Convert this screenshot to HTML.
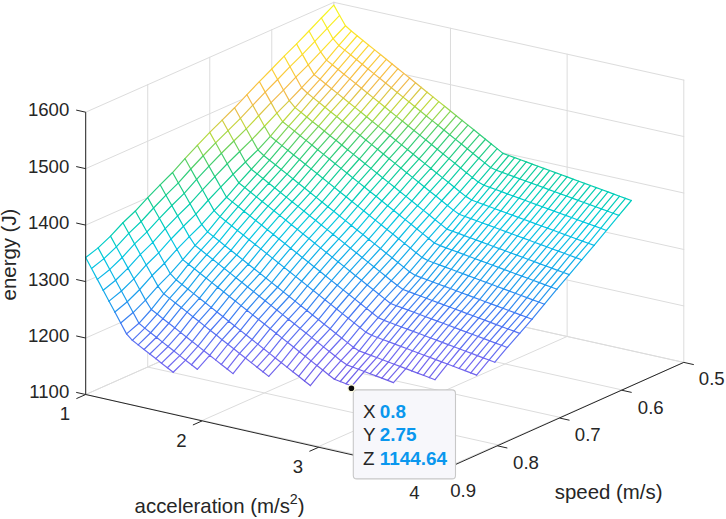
<!DOCTYPE html>
<html><head><meta charset="utf-8"><style>
html,body{margin:0;padding:0;background:#fff;}
body{width:726px;height:519px;overflow:hidden;}
svg{display:block;font-family:"Liberation Sans",sans-serif;}
</style></head><body>
<svg width="726" height="519" viewBox="0 0 726 519">
<rect width="726" height="519" fill="#fff"/>
<g stroke-linecap="round">
<line x1="333.80" y1="284.60" x2="333.80" y2="2.30" stroke="#dcdcdc" stroke-width="1.00"/>
<line x1="271.78" y1="312.07" x2="271.78" y2="29.77" stroke="#dcdcdc" stroke-width="1.00"/>
<line x1="209.75" y1="339.55" x2="209.75" y2="57.25" stroke="#dcdcdc" stroke-width="1.00"/>
<line x1="147.72" y1="367.02" x2="147.72" y2="84.72" stroke="#dcdcdc" stroke-width="1.00"/>
<line x1="85.70" y1="394.50" x2="85.70" y2="112.20" stroke="#dcdcdc" stroke-width="1.00"/>
<line x1="85.70" y1="394.50" x2="333.80" y2="284.60" stroke="#dcdcdc" stroke-width="1.00"/>
<line x1="85.70" y1="338.04" x2="333.80" y2="228.14" stroke="#dcdcdc" stroke-width="1.00"/>
<line x1="85.70" y1="281.58" x2="333.80" y2="171.68" stroke="#dcdcdc" stroke-width="1.00"/>
<line x1="85.70" y1="225.12" x2="333.80" y2="115.22" stroke="#dcdcdc" stroke-width="1.00"/>
<line x1="85.70" y1="168.66" x2="333.80" y2="58.76" stroke="#dcdcdc" stroke-width="1.00"/>
<line x1="85.70" y1="112.20" x2="333.80" y2="2.30" stroke="#dcdcdc" stroke-width="1.00"/>
<line x1="333.80" y1="284.60" x2="333.80" y2="2.30" stroke="#dcdcdc" stroke-width="1.00"/>
<line x1="450.47" y1="310.53" x2="450.47" y2="28.23" stroke="#dcdcdc" stroke-width="1.00"/>
<line x1="567.14" y1="336.46" x2="567.14" y2="54.16" stroke="#dcdcdc" stroke-width="1.00"/>
<line x1="683.81" y1="362.39" x2="683.81" y2="80.09" stroke="#dcdcdc" stroke-width="1.00"/>
<line x1="333.80" y1="284.60" x2="683.81" y2="362.39" stroke="#dcdcdc" stroke-width="1.00"/>
<line x1="333.80" y1="228.14" x2="683.81" y2="305.93" stroke="#dcdcdc" stroke-width="1.00"/>
<line x1="333.80" y1="171.68" x2="683.81" y2="249.47" stroke="#dcdcdc" stroke-width="1.00"/>
<line x1="333.80" y1="115.22" x2="683.81" y2="193.01" stroke="#dcdcdc" stroke-width="1.00"/>
<line x1="333.80" y1="58.76" x2="683.81" y2="136.55" stroke="#dcdcdc" stroke-width="1.00"/>
<line x1="333.80" y1="2.30" x2="683.81" y2="80.09" stroke="#dcdcdc" stroke-width="1.00"/>
<line x1="85.70" y1="394.50" x2="333.80" y2="284.60" stroke="#dcdcdc" stroke-width="1.00"/>
<line x1="202.37" y1="420.43" x2="450.47" y2="310.53" stroke="#dcdcdc" stroke-width="1.00"/>
<line x1="319.04" y1="446.36" x2="567.14" y2="336.46" stroke="#dcdcdc" stroke-width="1.00"/>
<line x1="435.71" y1="472.29" x2="683.81" y2="362.39" stroke="#dcdcdc" stroke-width="1.00"/>
<line x1="333.80" y1="284.60" x2="683.81" y2="362.39" stroke="#dcdcdc" stroke-width="1.00"/>
<line x1="271.78" y1="312.07" x2="621.78" y2="389.86" stroke="#dcdcdc" stroke-width="1.00"/>
<line x1="209.75" y1="339.55" x2="559.76" y2="417.34" stroke="#dcdcdc" stroke-width="1.00"/>
<line x1="147.72" y1="367.02" x2="497.73" y2="444.81" stroke="#dcdcdc" stroke-width="1.00"/>
<line x1="85.70" y1="394.50" x2="435.71" y2="472.29" stroke="#dcdcdc" stroke-width="1.00"/>
</g>
<g fill="none" stroke-width="1.2" stroke-linejoin="round" stroke-linecap="round">
<path d="M333.80 5.12L339.63 15.45L327.23 28.33L321.39 17.96ZM321.39 17.96L327.23 28.33L314.82 41.44L308.99 31.02ZM308.99 31.02L314.82 41.44L302.42 54.38L296.58 43.91ZM296.58 43.91L302.42 54.38L290.01 66.69L284.18 56.18ZM284.18 56.18L290.01 66.69L277.61 79.51L271.78 68.96ZM271.78 68.96L277.61 79.51L265.20 92.11L259.37 81.57ZM259.37 81.57L265.20 92.11L252.80 105.21L246.97 94.68ZM246.97 94.68L252.80 105.21L240.39 118.31L234.56 107.80ZM234.56 107.80L240.39 118.31L227.99 130.56L222.15 120.07ZM222.15 120.07L227.99 130.56L215.58 142.81L209.75 132.34ZM209.75 132.34L215.58 142.81L203.18 155.73L197.35 145.29ZM197.35 145.29L203.18 155.73L190.77 168.99L184.94 158.58ZM184.94 158.58L190.77 168.99L178.37 182.93L172.54 172.54ZM172.54 172.54L178.37 182.93L165.96 195.17L160.13 184.81ZM160.13 184.81L165.96 195.17L153.56 207.98L147.72 197.64ZM147.72 197.64L153.56 207.98L141.15 221.49L135.32 211.04ZM135.32 211.04L141.15 221.49L128.75 233.31L122.92 222.75ZM122.92 222.75L128.75 233.31L116.34 246.82L110.51 236.15ZM110.51 236.15L116.34 246.82L103.94 258.64L98.11 247.85ZM98.11 247.85L103.94 258.64L91.53 268.48L85.70 257.58ZM339.63 15.45L345.47 25.78L333.06 38.71L327.23 28.33ZM327.23 28.33L333.06 38.71L320.66 51.86L314.82 41.44ZM314.82 41.44L320.66 51.86L308.25 64.84L302.42 54.38ZM302.42 54.38L308.25 64.84L295.85 77.20L290.01 66.69ZM290.01 66.69L295.85 77.20L283.44 90.07L277.61 79.51ZM277.61 79.51L283.44 90.07L271.04 102.65L265.20 92.11ZM265.20 92.11L271.04 102.65L258.63 115.73L252.80 105.21ZM252.80 105.21L258.63 115.73L246.23 128.81L240.39 118.31ZM240.39 118.31L246.23 128.81L233.82 141.05L227.99 130.56ZM227.99 130.56L233.82 141.05L221.42 153.28L215.58 142.81ZM215.58 142.81L221.42 153.28L209.01 166.18L203.18 155.73ZM203.18 155.73L209.01 166.18L196.61 179.41L190.77 168.99ZM190.77 168.99L196.61 179.41L184.20 193.31L178.37 182.93ZM178.37 182.93L184.20 193.31L171.80 205.53L165.96 195.17ZM165.96 195.17L171.80 205.53L159.39 218.31L153.56 207.98ZM153.56 207.98L159.39 218.31L146.99 231.93L141.15 221.49ZM141.15 221.49L146.99 231.93L134.58 243.86L128.75 233.31ZM128.75 233.31L134.58 243.86L122.18 257.49L116.34 246.82ZM116.34 246.82L122.18 257.49L109.77 269.42L103.94 258.64ZM103.94 258.64L109.77 269.42L97.37 279.37L91.53 268.48ZM345.47 25.78L351.30 31.05L338.90 45.45L333.06 38.71ZM333.06 38.71L338.90 45.45L326.49 60.10L320.66 51.86ZM320.66 51.86L326.49 60.10L314.09 74.61L308.25 64.84ZM308.25 64.84L314.09 74.61L301.68 87.71L295.85 77.20ZM295.85 77.20L301.68 87.71L289.28 100.63L283.44 90.07ZM283.44 90.07L289.28 100.63L276.87 113.18L271.04 102.65ZM271.04 102.65L276.87 113.18L264.47 126.25L258.63 115.73ZM258.63 115.73L264.47 126.25L252.06 139.32L246.23 128.81ZM246.23 128.81L252.06 139.32L239.66 151.54L233.82 141.05ZM233.82 141.05L239.66 151.54L227.25 163.76L221.42 153.28ZM221.42 153.28L227.25 163.76L214.85 176.62L209.01 166.18ZM209.01 166.18L214.85 176.62L202.44 189.82L196.61 179.41ZM196.61 179.41L202.44 189.82L190.04 203.70L184.20 193.31ZM184.20 193.31L190.04 203.70L177.63 215.89L171.80 205.53ZM171.80 205.53L177.63 215.89L165.23 228.64L159.39 218.31ZM159.39 218.31L165.23 228.64L152.82 242.37L146.99 231.93ZM146.99 231.93L152.82 242.37L140.42 254.42L134.58 243.86ZM134.58 243.86L140.42 254.42L128.01 268.16L122.18 257.49ZM122.18 257.49L128.01 268.16L115.61 280.20L109.77 269.42ZM109.77 269.42L115.61 280.20L103.20 290.27L97.37 279.37ZM351.30 31.05L357.13 35.75L344.73 50.15L338.90 45.45ZM338.90 45.45L344.73 50.15L332.32 64.79L326.49 60.10ZM326.49 60.10L332.32 64.79L319.92 79.30L314.09 74.61ZM314.09 74.61L319.92 79.30L307.51 93.21L301.68 87.71ZM301.68 87.71L307.51 93.21L295.11 107.65L289.28 100.63ZM289.28 100.63L295.11 107.65L282.70 121.73L276.87 113.18ZM276.87 113.18L282.70 121.73L270.30 136.30L264.47 126.25ZM264.47 126.25L270.30 136.30L257.89 149.82L252.06 139.32ZM252.06 139.32L257.89 149.82L245.49 162.02L239.66 151.54ZM239.66 151.54L245.49 162.02L233.08 174.23L227.25 163.76ZM227.25 163.76L233.08 174.23L220.68 187.06L214.85 176.62ZM214.85 176.62L220.68 187.06L208.27 200.24L202.44 189.82ZM202.44 189.82L208.27 200.24L195.87 214.09L190.04 203.70ZM190.04 203.70L195.87 214.09L183.46 226.24L177.63 215.89ZM177.63 215.89L183.46 226.24L171.06 238.97L165.23 228.64ZM165.23 228.64L171.06 238.97L158.65 252.82L152.82 242.37ZM152.82 242.37L158.65 252.82L146.25 264.97L140.42 254.42ZM140.42 254.42L146.25 264.97L133.84 278.82L128.01 268.16ZM128.01 268.16L133.84 278.82L121.44 290.98L115.61 280.20ZM115.61 280.20L121.44 290.98L109.03 301.16L103.20 290.27ZM357.13 35.75L362.97 40.46L350.56 54.84L344.73 50.15ZM344.73 50.15L350.56 54.84L338.16 69.48L332.32 64.79ZM332.32 64.79L338.16 69.48L325.75 83.98L319.92 79.30ZM319.92 79.30L325.75 83.98L313.35 97.88L307.51 93.21ZM307.51 93.21L313.35 97.88L300.94 112.32L295.11 107.65ZM295.11 107.65L300.94 112.32L288.54 126.39L282.70 121.73ZM282.70 121.73L288.54 126.39L276.13 140.96L270.30 136.30ZM270.30 136.30L276.13 140.96L263.73 155.53L257.89 149.82ZM257.89 149.82L263.73 155.53L251.32 169.24L245.49 162.02ZM245.49 162.02L251.32 169.24L238.92 182.95L233.08 174.23ZM233.08 174.23L238.92 182.95L226.51 197.27L220.68 187.06ZM220.68 187.06L226.51 197.27L214.11 210.65L208.27 200.24ZM208.27 200.24L214.11 210.65L201.70 224.47L195.87 214.09ZM195.87 214.09L201.70 224.47L189.30 236.60L183.46 226.24ZM183.46 226.24L189.30 236.60L176.89 249.30L171.06 238.97ZM171.06 238.97L176.89 249.30L164.49 263.26L158.65 252.82ZM158.65 252.82L164.49 263.26L152.08 275.53L146.25 264.97ZM146.25 264.97L152.08 275.53L139.68 289.49L133.84 278.82ZM133.84 278.82L139.68 289.49L127.27 301.76L121.44 290.98ZM121.44 290.98L127.27 301.76L114.87 312.06L109.03 301.16ZM362.97 40.46L368.80 45.16L356.40 59.54L350.56 54.84ZM350.56 54.84L356.40 59.54L343.99 74.17L338.16 69.48ZM338.16 69.48L343.99 74.17L331.59 88.66L325.75 83.98ZM325.75 83.98L331.59 88.66L319.18 102.56L313.35 97.88ZM313.35 97.88L319.18 102.56L306.78 116.99L300.94 112.32ZM300.94 112.32L306.78 116.99L294.37 131.05L288.54 126.39ZM288.54 126.39L294.37 131.05L281.97 145.62L276.13 140.96ZM276.13 140.96L281.97 145.62L269.56 160.18L263.73 155.53ZM263.73 155.53L269.56 160.18L257.16 173.88L251.32 169.24ZM251.32 169.24L257.16 173.88L244.75 187.58L238.92 182.95ZM238.92 182.95L244.75 187.58L232.35 201.90L226.51 197.27ZM226.51 197.27L232.35 201.90L219.94 216.55L214.11 210.65ZM214.11 210.65L219.94 216.55L207.54 231.86L201.70 224.47ZM201.70 224.47L207.54 231.86L195.13 245.47L189.30 236.60ZM189.30 236.60L195.13 245.47L182.73 259.63L176.89 249.30ZM176.89 249.30L182.73 259.63L170.32 273.70L164.49 263.26ZM164.49 263.26L170.32 273.70L157.92 286.09L152.08 275.53ZM152.08 275.53L157.92 286.09L145.51 300.16L139.68 289.49ZM139.68 289.49L145.51 300.16L133.11 312.55L127.27 301.76ZM127.27 301.76L133.11 312.55L120.70 322.95L114.87 312.06ZM368.80 45.16L374.63 49.87L362.23 64.24L356.40 59.54ZM356.40 59.54L362.23 64.24L349.82 78.86L343.99 74.17ZM343.99 74.17L349.82 78.86L337.42 93.35L331.59 88.66ZM331.59 88.66L337.42 93.35L325.01 107.24L319.18 102.56ZM319.18 102.56L325.01 107.24L312.61 121.66L306.78 116.99ZM306.78 116.99L312.61 121.66L300.20 135.72L294.37 131.05ZM294.37 131.05L300.20 135.72L287.80 150.27L281.97 145.62ZM281.97 145.62L287.80 150.27L275.39 164.82L269.56 160.18ZM269.56 160.18L275.39 164.82L262.99 178.52L257.16 173.88ZM257.16 173.88L262.99 178.52L250.58 192.22L244.75 187.58ZM244.75 187.58L250.58 192.22L238.18 206.53L232.35 201.90ZM232.35 201.90L238.18 206.53L225.77 221.17L219.94 216.55ZM219.94 216.55L225.77 221.17L213.37 236.47L207.54 231.86ZM207.54 231.86L213.37 236.47L200.96 250.07L195.13 245.47ZM195.13 245.47L200.96 250.07L188.56 264.23L182.73 259.63ZM182.73 259.63L188.56 264.23L176.15 279.82L170.32 273.70ZM170.32 273.70L176.15 279.82L163.75 293.78L157.92 286.09ZM157.92 286.09L163.75 293.78L151.34 309.49L145.51 300.16ZM145.51 300.16L151.34 309.49L138.94 323.33L133.11 312.55ZM133.11 312.55L138.94 323.33L126.53 333.85L120.70 322.95ZM374.63 49.87L380.47 54.57L368.06 68.93L362.23 64.24ZM362.23 64.24L368.06 68.93L355.66 83.55L349.82 78.86ZM349.82 78.86L355.66 83.55L343.25 98.03L337.42 93.35ZM337.42 93.35L343.25 98.03L330.85 111.91L325.01 107.24ZM325.01 107.24L330.85 111.91L318.44 126.33L312.61 121.66ZM312.61 121.66L318.44 126.33L306.04 140.38L300.20 135.72ZM300.20 135.72L306.04 140.38L293.63 154.93L287.80 150.27ZM287.80 150.27L293.63 154.93L281.23 169.47L275.39 164.82ZM275.39 164.82L281.23 169.47L268.82 183.17L262.99 178.52ZM262.99 178.52L268.82 183.17L256.42 196.86L250.58 192.22ZM250.58 192.22L256.42 196.86L244.01 211.16L238.18 206.53ZM238.18 206.53L244.01 211.16L231.61 225.79L225.77 221.17ZM225.77 221.17L231.61 225.79L219.20 241.09L213.37 236.47ZM213.37 236.47L219.20 241.09L206.80 254.68L200.96 250.07ZM200.96 250.07L206.80 254.68L194.39 268.83L188.56 264.23ZM188.56 264.23L194.39 268.83L181.99 284.41L176.15 279.82ZM176.15 279.82L181.99 284.41L169.58 298.37L163.75 293.78ZM163.75 293.78L169.58 298.37L157.18 314.07L151.34 309.49ZM151.34 309.49L157.18 314.07L144.77 328.15L138.94 323.33ZM138.94 323.33L144.77 328.15L132.37 340.31L126.53 333.85ZM380.47 54.57L386.30 59.27L373.90 73.63L368.06 68.93ZM368.06 68.93L373.90 73.63L361.49 88.24L355.66 83.55ZM355.66 83.55L361.49 88.24L349.09 102.71L343.25 98.03ZM343.25 98.03L349.09 102.71L336.68 116.59L330.85 111.91ZM330.85 111.91L336.68 116.59L324.28 131.00L318.44 126.33ZM318.44 126.33L324.28 131.00L311.87 145.04L306.04 140.38ZM306.04 140.38L311.87 145.04L299.47 159.59L293.63 154.93ZM293.63 154.93L299.47 159.59L287.06 174.12L281.23 169.47ZM281.23 169.47L287.06 174.12L274.66 187.81L268.82 183.17ZM268.82 183.17L274.66 187.81L262.25 201.49L256.42 196.86ZM256.42 196.86L262.25 201.49L249.85 215.79L244.01 211.16ZM244.01 211.16L249.85 215.79L237.44 230.41L231.61 225.79ZM231.61 225.79L237.44 230.41L225.04 245.71L219.20 241.09ZM219.20 241.09L225.04 245.71L212.63 259.29L206.80 254.68ZM206.80 254.68L212.63 259.29L200.23 273.43L194.39 268.83ZM194.39 268.83L200.23 273.43L187.82 289.01L181.99 284.41ZM181.99 284.41L187.82 289.01L175.42 302.95L169.58 298.37ZM169.58 298.37L175.42 302.95L163.01 318.66L157.18 314.07ZM157.18 314.07L163.01 318.66L150.61 332.73L144.77 328.15ZM144.77 328.15L150.61 332.73L138.20 344.88L132.37 340.31ZM386.30 59.27L392.13 63.98L379.73 78.33L373.90 73.63ZM373.90 73.63L379.73 78.33L367.32 92.93L361.49 88.24ZM361.49 88.24L367.32 92.93L354.92 107.40L349.09 102.71ZM349.09 102.71L354.92 107.40L342.52 121.27L336.68 116.59ZM336.68 116.59L342.52 121.27L330.11 135.67L324.28 131.00ZM324.28 131.00L330.11 135.67L317.71 149.70L311.87 145.04ZM311.87 145.04L317.71 149.70L305.30 164.24L299.47 159.59ZM299.47 159.59L305.30 164.24L292.89 178.77L287.06 174.12ZM287.06 174.12L292.89 178.77L280.49 192.45L274.66 187.81ZM274.66 187.81L280.49 192.45L268.09 206.13L262.25 201.49ZM262.25 201.49L268.09 206.13L255.68 220.42L249.85 215.79ZM249.85 215.79L255.68 220.42L243.28 235.04L237.44 230.41ZM237.44 230.41L243.28 235.04L230.87 250.32L225.04 245.71ZM225.04 245.71L230.87 250.32L218.46 263.90L212.63 259.29ZM212.63 259.29L218.46 263.90L206.06 278.03L200.23 273.43ZM200.23 273.43L206.06 278.03L193.66 293.60L187.82 289.01ZM187.82 289.01L193.66 293.60L181.25 307.54L175.42 302.95ZM175.42 302.95L181.25 307.54L168.85 323.24L163.01 318.66ZM163.01 318.66L168.85 323.24L156.44 337.30L150.61 332.73ZM150.61 332.73L156.44 337.30L144.03 349.45L138.20 344.88ZM392.13 63.98L397.97 68.68L385.56 83.03L379.73 78.33ZM379.73 78.33L385.56 83.03L373.16 97.62L367.32 92.93ZM367.32 92.93L373.16 97.62L360.75 112.08L354.92 107.40ZM354.92 107.40L360.75 112.08L348.35 125.94L342.52 121.27ZM342.52 121.27L348.35 125.94L335.94 140.34L330.11 135.67ZM330.11 135.67L335.94 140.34L323.54 154.37L317.71 149.70ZM317.71 149.70L323.54 154.37L311.13 168.90L305.30 164.24ZM305.30 164.24L311.13 168.90L298.73 183.42L292.89 178.77ZM292.89 178.77L298.73 183.42L286.32 197.10L280.49 192.45ZM280.49 192.45L286.32 197.10L273.92 210.76L268.09 206.13ZM268.09 206.13L273.92 210.76L261.51 225.05L255.68 220.42ZM255.68 220.42L261.51 225.05L249.11 239.66L243.28 235.04ZM243.28 235.04L249.11 239.66L236.70 254.94L230.87 250.32ZM230.87 250.32L236.70 254.94L224.30 268.51L218.46 263.90ZM218.46 263.90L224.30 268.51L211.89 282.64L206.06 278.03ZM206.06 278.03L211.89 282.64L199.49 298.20L193.66 293.60ZM193.66 293.60L199.49 298.20L187.08 312.13L181.25 307.54ZM181.25 307.54L187.08 312.13L174.68 327.82L168.85 323.24ZM168.85 323.24L174.68 327.82L162.27 341.88L156.44 337.30ZM156.44 337.30L162.27 341.88L149.87 354.02L144.03 349.45ZM397.97 68.68L403.80 73.38L391.40 87.72L385.56 83.03ZM385.56 83.03L391.40 87.72L378.99 102.32L373.16 97.62ZM373.16 97.62L378.99 102.32L366.59 116.76L360.75 112.08ZM360.75 112.08L366.59 116.76L354.18 130.62L348.35 125.94ZM348.35 125.94L354.18 130.62L341.78 145.01L335.94 140.34ZM335.94 140.34L341.78 145.01L329.37 159.03L323.54 154.37ZM323.54 154.37L329.37 159.03L316.97 173.55L311.13 168.90ZM311.13 168.90L316.97 173.55L304.56 188.07L298.73 183.42ZM298.73 183.42L304.56 188.07L292.16 201.74L286.32 197.10ZM286.32 197.10L292.16 201.74L279.75 215.40L273.92 210.76ZM273.92 210.76L279.75 215.40L267.35 229.68L261.51 225.05ZM261.51 225.05L267.35 229.68L254.94 244.28L249.11 239.66ZM249.11 239.66L254.94 244.28L242.54 259.55L236.70 254.94ZM236.70 254.94L242.54 259.55L230.13 273.12L224.30 268.51ZM224.30 268.51L230.13 273.12L217.73 287.24L211.89 282.64ZM211.89 282.64L217.73 287.24L205.32 302.80L199.49 298.20ZM199.49 298.20L205.32 302.80L192.92 316.72L187.08 312.13ZM187.08 312.13L192.92 316.72L180.51 332.40L174.68 327.82ZM174.68 327.82L180.51 332.40L168.11 346.45L162.27 341.88ZM162.27 341.88L168.11 346.45L155.70 358.59L149.87 354.02ZM403.80 73.38L409.64 78.09L397.23 92.42L391.40 87.72ZM391.40 87.72L397.23 92.42L384.83 107.01L378.99 102.32ZM378.99 102.32L384.83 107.01L372.42 121.45L366.59 116.76ZM366.59 116.76L372.42 121.45L360.02 135.30L354.18 130.62ZM354.18 130.62L360.02 135.30L347.61 149.68L341.78 145.01ZM341.78 145.01L347.61 149.68L335.21 163.69L329.37 159.03ZM329.37 159.03L335.21 163.69L322.80 178.21L316.97 173.55ZM316.97 173.55L322.80 178.21L310.40 192.72L304.56 188.07ZM304.56 188.07L310.40 192.72L297.99 206.38L292.16 201.74ZM292.16 201.74L297.99 206.38L285.59 220.04L279.75 215.40ZM279.75 215.40L285.59 220.04L273.18 234.31L267.35 229.68ZM267.35 229.68L273.18 234.31L260.78 248.90L254.94 244.28ZM254.94 244.28L260.78 248.90L248.37 264.17L242.54 259.55ZM242.54 259.55L248.37 264.17L235.97 277.73L230.13 273.12ZM230.13 273.12L235.97 277.73L223.56 291.84L217.73 287.24ZM217.73 287.24L223.56 291.84L211.16 307.39L205.32 302.80ZM205.32 302.80L211.16 307.39L198.75 321.31L192.92 316.72ZM192.92 316.72L198.75 321.31L186.35 336.98L180.51 332.40ZM180.51 332.40L186.35 336.98L173.94 351.03L168.11 346.45ZM168.11 346.45L173.94 351.03L161.54 363.16L155.70 358.59ZM409.64 78.09L415.47 82.79L403.06 97.12L397.23 92.42ZM397.23 92.42L403.06 97.12L390.66 111.70L384.83 107.01ZM384.83 107.01L390.66 111.70L378.25 126.13L372.42 121.45ZM372.42 121.45L378.25 126.13L365.85 139.97L360.02 135.30ZM360.02 135.30L365.85 139.97L353.44 154.35L347.61 149.68ZM347.61 149.68L353.44 154.35L341.04 168.36L335.21 163.69ZM335.21 163.69L341.04 168.36L328.63 182.87L322.80 178.21ZM322.80 178.21L328.63 182.87L316.23 197.37L310.40 192.72ZM310.40 192.72L316.23 197.37L303.82 211.03L297.99 206.38ZM297.99 206.38L303.82 211.03L291.42 224.67L285.59 220.04ZM285.59 220.04L291.42 224.67L279.01 238.94L273.18 234.31ZM273.18 234.31L279.01 238.94L266.61 253.53L260.78 248.90ZM260.78 248.90L266.61 253.53L254.20 268.78L248.37 264.17ZM248.37 264.17L254.20 268.78L241.80 282.34L235.97 277.73ZM235.97 277.73L241.80 282.34L229.39 296.44L223.56 291.84ZM223.56 291.84L229.39 296.44L216.99 311.99L211.16 307.39ZM211.16 307.39L216.99 311.99L204.58 325.90L198.75 321.31ZM198.75 321.31L204.58 325.90L192.18 341.57L186.35 336.98ZM186.35 336.98L192.18 341.57L179.77 355.60L173.94 351.03ZM173.94 351.03L179.77 355.60L167.37 367.72L161.54 363.16ZM415.47 82.79L421.30 87.50L408.90 101.81L403.06 97.12ZM403.06 97.12L408.90 101.81L396.49 116.39L390.66 111.70ZM390.66 111.70L396.49 116.39L384.09 130.82L378.25 126.13ZM378.25 126.13L384.09 130.82L371.68 144.65L365.85 139.97ZM365.85 139.97L371.68 144.65L359.28 159.02L353.44 154.35ZM353.44 154.35L359.28 159.02L346.87 173.02L341.04 168.36ZM341.04 168.36L346.87 173.02L334.47 187.52L328.63 182.87ZM328.63 182.87L334.47 187.52L322.06 202.02L316.23 197.37ZM316.23 197.37L322.06 202.02L309.66 215.67L303.82 211.03ZM303.82 211.03L309.66 215.67L297.25 229.31L291.42 224.67ZM291.42 224.67L297.25 229.31L284.85 243.57L279.01 238.94ZM279.01 238.94L284.85 243.57L272.44 258.15L266.61 253.53ZM266.61 253.53L272.44 258.15L260.04 273.40L254.20 268.78ZM254.20 268.78L260.04 273.40L247.63 286.95L241.80 282.34ZM241.80 282.34L247.63 286.95L235.23 301.05L229.39 296.44ZM229.39 296.44L235.23 301.05L222.82 316.58L216.99 311.99ZM216.99 311.99L222.82 316.58L210.42 330.49L204.58 325.90ZM204.58 325.90L210.42 330.49L198.01 346.15L192.18 341.57ZM192.18 341.57L198.01 346.15L185.61 360.18L179.77 355.60ZM179.77 355.60L185.61 360.18L173.20 372.29L167.37 367.72ZM421.30 87.50L427.14 92.20L414.73 106.51L408.90 101.81ZM408.90 101.81L414.73 106.51L402.33 121.08L396.49 116.39ZM396.49 116.39L402.33 121.08L389.92 135.50L384.09 130.82ZM384.09 130.82L389.92 135.50L377.52 149.33L371.68 144.65ZM371.68 144.65L377.52 149.33L365.11 163.69L359.28 159.02ZM359.28 159.02L365.11 163.69L352.71 177.68L346.87 173.02ZM346.87 173.02L352.71 177.68L340.30 192.18L334.47 187.52ZM334.47 187.52L340.30 192.18L327.90 206.67L322.06 202.02ZM322.06 202.02L327.90 206.67L315.49 220.31L309.66 215.67ZM309.66 215.67L315.49 220.31L303.09 233.94L297.25 229.31ZM297.25 229.31L303.09 233.94L290.68 248.19L284.85 243.57ZM284.85 243.57L290.68 248.19L278.28 262.77L272.44 258.15ZM272.44 258.15L278.28 262.77L265.87 278.02L260.04 273.40ZM260.04 273.40L265.87 278.02L253.47 291.56L247.63 286.95ZM247.63 286.95L253.47 291.56L241.06 305.65L235.23 301.05ZM235.23 301.05L241.06 305.65L228.66 321.18L222.82 316.58ZM222.82 316.58L228.66 321.18L216.25 335.08L210.42 330.49ZM210.42 330.49L216.25 335.08L203.85 350.73L198.01 346.15ZM198.01 346.15L203.85 350.73L191.44 364.75L185.61 360.18ZM427.14 92.20L432.97 96.90L420.56 111.21L414.73 106.51ZM414.73 106.51L420.56 111.21L408.16 125.77L402.33 121.08ZM402.33 121.08L408.16 125.77L395.75 140.18L389.92 135.50ZM389.92 135.50L395.75 140.18L383.35 154.00L377.52 149.33ZM377.52 149.33L383.35 154.00L370.94 168.36L365.11 163.69ZM365.11 163.69L370.94 168.36L358.54 182.35L352.71 177.68ZM352.71 177.68L358.54 182.35L346.13 196.84L340.30 192.18ZM340.30 192.18L346.13 196.84L333.73 211.32L327.90 206.67ZM327.90 206.67L333.73 211.32L321.32 224.95L315.49 220.31ZM315.49 220.31L321.32 224.95L308.92 238.58L303.09 233.94ZM303.09 233.94L308.92 238.58L296.51 252.82L290.68 248.19ZM290.68 248.19L296.51 252.82L284.11 267.39L278.28 262.77ZM278.28 262.77L284.11 267.39L271.70 282.63L265.87 278.02ZM265.87 278.02L271.70 282.63L259.30 296.16L253.47 291.56ZM253.47 291.56L259.30 296.16L246.89 310.25L241.06 305.65ZM241.06 305.65L246.89 310.25L234.49 325.77L228.66 321.18ZM228.66 321.18L234.49 325.77L222.08 339.66L216.25 335.08ZM216.25 335.08L222.08 339.66L209.68 355.31L203.85 350.73ZM203.85 350.73L209.68 355.31L197.27 369.33L191.44 364.75ZM432.97 96.90L438.80 101.61L426.40 115.91L420.56 111.21ZM420.56 111.21L426.40 115.91L413.99 130.46L408.16 125.77ZM408.16 125.77L413.99 130.46L401.59 144.87L395.75 140.18ZM395.75 140.18L401.59 144.87L389.18 158.68L383.35 154.00ZM383.35 154.00L389.18 158.68L376.78 173.03L370.94 168.36ZM370.94 168.36L376.78 173.03L364.37 187.01L358.54 182.35ZM358.54 182.35L364.37 187.01L351.97 201.49L346.13 196.84ZM346.13 196.84L351.97 201.49L339.56 215.97L333.73 211.32ZM333.73 211.32L339.56 215.97L327.16 229.60L321.32 224.95ZM321.32 224.95L327.16 229.60L314.75 243.22L308.92 238.58ZM308.92 238.58L314.75 243.22L302.35 257.45L296.51 252.82ZM296.51 252.82L302.35 257.45L289.94 272.02L284.11 267.39ZM284.11 267.39L289.94 272.02L277.54 287.25L271.70 282.63ZM271.70 282.63L277.54 287.25L265.13 300.77L259.30 296.16ZM259.30 296.16L265.13 300.77L252.73 314.85L246.89 310.25ZM246.89 310.25L252.73 314.85L240.32 330.37L234.49 325.77ZM234.49 325.77L240.32 330.37L227.92 344.25L222.08 339.66ZM222.08 339.66L227.92 344.25L215.51 359.89L209.68 355.31ZM438.80 101.61L444.64 106.31L432.23 120.60L426.40 115.91ZM426.40 115.91L432.23 120.60L419.83 135.15L413.99 130.46ZM413.99 130.46L419.83 135.15L407.42 149.55L401.59 144.87ZM401.59 144.87L407.42 149.55L395.02 163.36L389.18 158.68ZM389.18 158.68L395.02 163.36L382.61 177.70L376.78 173.03ZM376.78 173.03L382.61 177.70L370.21 191.67L364.37 187.01ZM364.37 187.01L370.21 191.67L357.80 206.15L351.97 201.49ZM351.97 201.49L357.80 206.15L345.40 220.62L339.56 215.97ZM339.56 215.97L345.40 220.62L332.99 234.24L327.16 229.60ZM327.16 229.60L332.99 234.24L320.59 247.85L314.75 243.22ZM314.75 243.22L320.59 247.85L308.18 262.08L302.35 257.45ZM302.35 257.45L308.18 262.08L295.78 276.64L289.94 272.02ZM289.94 272.02L295.78 276.64L283.37 291.86L277.54 287.25ZM277.54 287.25L283.37 291.86L270.97 305.38L265.13 300.77ZM265.13 300.77L270.97 305.38L258.56 319.45L252.73 314.85ZM252.73 314.85L258.56 319.45L246.16 334.96L240.32 330.37ZM240.32 330.37L246.16 334.96L233.75 348.84L227.92 344.25ZM227.92 344.25L233.75 348.84L221.35 364.48L215.51 359.89ZM444.64 106.31L450.47 111.02L438.06 125.30L432.23 120.60ZM432.23 120.60L438.06 125.30L425.66 139.84L419.83 135.15ZM419.83 135.15L425.66 139.84L413.25 154.23L407.42 149.55ZM407.42 149.55L413.25 154.23L400.85 168.03L395.02 163.36ZM395.02 163.36L400.85 168.03L388.45 182.37L382.61 177.70ZM382.61 177.70L388.45 182.37L376.04 196.34L370.21 191.67ZM370.21 191.67L376.04 196.34L363.63 210.81L357.80 206.15ZM357.80 206.15L363.63 210.81L351.23 225.27L345.40 220.62ZM345.40 220.62L351.23 225.27L338.82 238.88L332.99 234.24ZM332.99 234.24L338.82 238.88L326.42 252.49L320.59 247.85ZM320.59 247.85L326.42 252.49L314.02 266.71L308.18 262.08ZM308.18 262.08L314.02 266.71L301.61 281.26L295.78 276.64ZM295.78 276.64L301.61 281.26L289.21 296.48L283.37 291.86ZM283.37 291.86L289.21 296.48L276.80 309.99L270.97 305.38ZM270.97 305.38L276.80 309.99L264.39 324.06L258.56 319.45ZM258.56 319.45L264.39 324.06L251.99 339.56L246.16 334.96ZM246.16 334.96L251.99 339.56L239.59 353.43L233.75 348.84ZM233.75 348.84L239.59 353.43L227.18 369.06L221.35 364.48ZM450.47 111.02L456.30 115.72L443.90 130.00L438.06 125.30ZM438.06 125.30L443.90 130.00L431.49 144.53L425.66 139.84ZM425.66 139.84L431.49 144.53L419.09 158.92L413.25 154.23ZM413.25 154.23L419.09 158.92L406.68 172.71L400.85 168.03ZM400.85 168.03L406.68 172.71L394.28 187.04L388.45 182.37ZM388.45 182.37L394.28 187.04L381.87 201.00L376.04 196.34ZM376.04 196.34L381.87 201.00L369.47 215.46L363.63 210.81ZM363.63 210.81L369.47 215.46L357.06 229.92L351.23 225.27ZM351.23 225.27L357.06 229.92L344.66 243.53L338.82 238.88ZM338.82 238.88L344.66 243.53L332.25 257.13L326.42 252.49ZM326.42 252.49L332.25 257.13L319.85 271.34L314.02 266.71ZM314.02 266.71L319.85 271.34L307.44 285.89L301.61 281.26ZM301.61 281.26L307.44 285.89L295.04 301.10L289.21 296.48ZM289.21 296.48L295.04 301.10L282.63 314.60L276.80 309.99ZM276.80 309.99L282.63 314.60L270.23 328.66L264.39 324.06ZM264.39 324.06L270.23 328.66L257.82 344.15L251.99 339.56ZM251.99 339.56L257.82 344.15L245.42 358.02L239.59 353.43ZM239.59 353.43L245.42 358.02L233.01 373.64L227.18 369.06ZM456.30 115.72L462.14 120.42L449.73 134.69L443.90 130.00ZM443.90 130.00L449.73 134.69L437.33 149.22L431.49 144.53ZM431.49 144.53L437.33 149.22L424.92 163.60L419.09 158.92ZM419.09 158.92L424.92 163.60L412.52 177.39L406.68 172.71ZM406.68 172.71L412.52 177.39L400.11 191.71L394.28 187.04ZM394.28 187.04L400.11 191.71L387.71 205.66L381.87 201.00ZM381.87 201.00L387.71 205.66L375.30 220.12L369.47 215.46ZM369.47 215.46L375.30 220.12L362.90 234.57L357.06 229.92ZM357.06 229.92L362.90 234.57L350.49 248.17L344.66 243.53ZM344.66 243.53L350.49 248.17L338.09 261.76L332.25 257.13ZM332.25 257.13L338.09 261.76L325.68 275.97L319.85 271.34ZM319.85 271.34L325.68 275.97L313.28 290.51L307.44 285.89ZM307.44 285.89L313.28 290.51L300.87 305.71L295.04 301.10ZM295.04 301.10L300.87 305.71L288.47 319.21L282.63 314.60ZM282.63 314.60L288.47 319.21L276.06 333.26L270.23 328.66ZM270.23 328.66L276.06 333.26L263.66 348.75L257.82 344.15ZM257.82 344.15L263.66 348.75L251.25 362.61L245.42 358.02ZM462.14 120.42L467.97 125.13L455.57 139.39L449.73 134.69ZM449.73 134.69L455.57 139.39L443.16 153.91L437.33 149.22ZM437.33 149.22L443.16 153.91L430.76 168.28L424.92 163.60ZM424.92 163.60L430.76 168.28L418.35 182.06L412.52 177.39ZM412.52 177.39L418.35 182.06L405.95 196.38L400.11 191.71ZM400.11 191.71L405.95 196.38L393.54 210.33L387.71 205.66ZM387.71 205.66L393.54 210.33L381.14 224.78L375.30 220.12ZM375.30 220.12L381.14 224.78L368.73 239.22L362.90 234.57ZM362.90 234.57L368.73 239.22L356.33 252.81L350.49 248.17ZM350.49 248.17L356.33 252.81L343.92 266.40L338.09 261.76ZM338.09 261.76L343.92 266.40L331.52 280.60L325.68 275.97ZM325.68 275.97L331.52 280.60L319.11 295.13L313.28 290.51ZM313.28 290.51L319.11 295.13L306.71 310.33L300.87 305.71ZM300.87 305.71L306.71 310.33L294.30 323.82L288.47 319.21ZM288.47 319.21L294.30 323.82L281.90 337.86L276.06 333.26ZM276.06 333.26L281.90 337.86L269.49 353.35L263.66 348.75ZM263.66 348.75L269.49 353.35L257.09 367.20L251.25 362.61ZM467.97 125.13L473.80 129.83L461.40 144.09L455.57 139.39ZM455.57 139.39L461.40 144.09L448.99 158.60L443.16 153.91ZM443.16 153.91L448.99 158.60L436.59 172.97L430.76 168.28ZM430.76 168.28L436.59 172.97L424.18 186.74L418.35 182.06ZM418.35 182.06L424.18 186.74L411.78 201.05L405.95 196.38ZM405.95 196.38L411.78 201.05L399.37 214.99L393.54 210.33ZM393.54 210.33L399.37 214.99L386.97 229.43L381.14 224.78ZM381.14 224.78L386.97 229.43L374.56 243.87L368.73 239.22ZM368.73 239.22L374.56 243.87L362.16 257.45L356.33 252.81ZM356.33 252.81L362.16 257.45L349.75 271.03L343.92 266.40ZM343.92 266.40L349.75 271.03L337.35 285.23L331.52 280.60ZM331.52 280.60L337.35 285.23L324.94 299.75L319.11 295.13ZM319.11 295.13L324.94 299.75L312.54 314.94L306.71 310.33ZM306.71 310.33L312.54 314.94L300.13 328.43L294.30 323.82ZM294.30 323.82L300.13 328.43L287.73 342.47L281.90 337.86ZM281.90 337.86L287.73 342.47L275.32 357.94L269.49 353.35ZM269.49 353.35L275.32 357.94L262.92 371.78L257.09 367.20ZM473.80 129.83L479.64 134.53L467.23 148.79L461.40 144.09ZM461.40 144.09L467.23 148.79L454.83 163.29L448.99 158.60ZM448.99 158.60L454.83 163.29L442.42 177.65L436.59 172.97ZM436.59 172.97L442.42 177.65L430.02 191.42L424.18 186.74ZM424.18 186.74L430.02 191.42L417.61 205.72L411.78 201.05ZM411.78 201.05L417.61 205.72L405.21 219.65L399.37 214.99ZM399.37 214.99L405.21 219.65L392.80 234.09L386.97 229.43ZM386.97 229.43L392.80 234.09L380.40 248.52L374.56 243.87ZM374.56 243.87L380.40 248.52L367.99 262.10L362.16 257.45ZM362.16 257.45L367.99 262.10L355.59 275.67L349.75 271.03ZM349.75 271.03L355.59 275.67L343.18 289.86L337.35 285.23ZM337.35 285.23L343.18 289.86L330.78 304.38L324.94 299.75ZM324.94 299.75L330.78 304.38L318.37 319.56L312.54 314.94ZM312.54 314.94L318.37 319.56L305.97 333.04L300.13 328.43ZM300.13 328.43L305.97 333.04L293.56 347.07L287.73 342.47ZM287.73 342.47L293.56 347.07L281.16 362.54L275.32 357.94ZM275.32 357.94L281.16 362.54L268.75 376.37L262.92 371.78ZM479.64 134.53L485.47 139.24L473.07 153.48L467.23 148.79ZM467.23 148.79L473.07 153.48L460.66 167.98L454.83 163.29ZM454.83 163.29L460.66 167.98L448.26 182.33L442.42 177.65ZM442.42 177.65L448.26 182.33L435.85 196.09L430.02 191.42ZM430.02 191.42L435.85 196.09L423.45 210.39L417.61 205.72ZM417.61 205.72L423.45 210.39L411.04 224.32L405.21 219.65ZM405.21 219.65L411.04 224.32L398.64 238.74L392.80 234.09ZM392.80 234.09L398.64 238.74L386.23 253.17L380.40 248.52ZM380.40 248.52L386.23 253.17L373.83 266.74L367.99 262.10ZM367.99 262.10L373.83 266.74L361.42 280.31L355.59 275.67ZM355.59 275.67L361.42 280.31L349.02 294.49L343.18 289.86ZM343.18 289.86L349.02 294.49L336.61 309.00L330.78 304.38ZM330.78 304.38L336.61 309.00L324.21 324.17L318.37 319.56ZM318.37 319.56L324.21 324.17L311.80 337.65L305.97 333.04ZM305.97 333.04L311.80 337.65L299.40 351.67L293.56 347.07ZM293.56 347.07L299.40 351.67L286.99 367.13L281.16 362.54ZM485.47 139.24L491.30 143.94L478.90 158.18L473.07 153.48ZM473.07 153.48L478.90 158.18L466.49 172.67L460.66 167.98ZM460.66 167.98L466.49 172.67L454.09 187.02L448.26 182.33ZM448.26 182.33L454.09 187.02L441.68 200.77L435.85 196.09ZM435.85 196.09L441.68 200.77L429.28 215.06L423.45 210.39ZM423.45 210.39L429.28 215.06L416.87 228.98L411.04 224.32ZM411.04 224.32L416.87 228.98L404.47 243.40L398.64 238.74ZM398.64 238.74L404.47 243.40L392.06 257.82L386.23 253.17ZM386.23 253.17L392.06 257.82L379.66 271.38L373.83 266.74ZM373.83 266.74L379.66 271.38L367.25 284.94L361.42 280.31ZM361.42 280.31L367.25 284.94L354.85 299.12L349.02 294.49ZM349.02 294.49L354.85 299.12L342.44 313.62L336.61 309.00ZM336.61 309.00L342.44 313.62L330.04 328.79L324.21 324.17ZM324.21 324.17L330.04 328.79L317.63 342.25L311.80 337.65ZM311.80 337.65L317.63 342.25L305.23 356.27L299.40 351.67ZM299.40 351.67L305.23 356.27L292.82 371.73L286.99 367.13ZM491.30 143.94L497.14 148.65L484.73 162.88L478.90 158.18ZM478.90 158.18L484.73 162.88L472.33 177.36L466.49 172.67ZM466.49 172.67L472.33 177.36L459.92 191.70L454.09 187.02ZM454.09 187.02L459.92 191.70L447.52 205.45L441.68 200.77ZM441.68 200.77L447.52 205.45L435.11 219.73L429.28 215.06ZM429.28 215.06L435.11 219.73L422.71 233.64L416.87 228.98ZM416.87 228.98L422.71 233.64L410.30 248.06L404.47 243.40ZM404.47 243.40L410.30 248.06L397.90 262.47L392.06 257.82ZM392.06 257.82L397.90 262.47L385.49 276.03L379.66 271.38ZM379.66 271.38L385.49 276.03L373.09 289.58L367.25 284.94ZM367.25 284.94L373.09 289.58L360.68 303.75L354.85 299.12ZM354.85 299.12L360.68 303.75L348.28 318.24L342.44 313.62ZM342.44 313.62L348.28 318.24L335.87 333.41L330.04 328.79ZM330.04 328.79L335.87 333.41L323.47 346.86L317.63 342.25ZM317.63 342.25L323.47 346.86L311.06 360.87L305.23 356.27ZM305.23 356.27L311.06 360.87L298.66 376.32L292.82 371.73ZM497.14 148.65L502.97 153.35L490.57 167.57L484.73 162.88ZM484.73 162.88L490.57 167.57L478.16 182.05L472.33 177.36ZM472.33 177.36L478.16 182.05L465.76 196.38L459.92 191.70ZM459.92 191.70L465.76 196.38L453.35 210.12L447.52 205.45ZM447.52 205.45L453.35 210.12L440.95 224.40L435.11 219.73ZM435.11 219.73L440.95 224.40L428.54 238.31L422.71 233.64ZM422.71 233.64L428.54 238.31L416.14 252.71L410.30 248.06ZM410.30 248.06L416.14 252.71L403.73 267.12L397.90 262.47ZM397.90 262.47L403.73 267.12L391.33 280.67L385.49 276.03ZM385.49 276.03L391.33 280.67L378.92 294.21L373.09 289.58ZM373.09 289.58L378.92 294.21L366.52 308.38L360.68 303.75ZM360.68 303.75L366.52 308.38L354.11 322.87L348.28 318.24ZM348.28 318.24L354.11 322.87L341.71 338.02L335.87 333.41ZM335.87 333.41L341.71 338.02L329.30 351.47L323.47 346.86ZM323.47 346.86L329.30 351.47L316.90 365.48L311.06 360.87ZM311.06 360.87L316.90 365.48L304.49 380.92L298.66 376.32ZM502.97 153.35L508.81 155.49L496.40 170.23L490.57 167.57ZM490.57 167.57L496.40 170.23L484.00 185.22L478.16 182.05ZM478.16 182.05L484.00 185.22L471.59 200.06L465.76 196.38ZM465.76 196.38L471.59 200.06L459.19 214.30L453.35 210.12ZM453.35 210.12L459.19 214.30L446.78 229.07L440.95 224.40ZM440.95 224.40L446.78 229.07L434.38 242.97L428.54 238.31ZM428.54 238.31L434.38 242.97L421.97 257.37L416.14 252.71ZM416.14 252.71L421.97 257.37L409.56 271.77L403.73 267.12ZM403.73 267.12L409.56 271.77L397.16 285.31L391.33 280.67ZM391.33 280.67L397.16 285.31L384.75 298.85L378.92 294.21ZM378.92 294.21L384.75 298.85L372.35 313.01L366.52 308.38ZM366.52 308.38L372.35 313.01L359.94 327.49L354.11 322.87ZM354.11 322.87L359.94 327.49L347.54 342.64L341.71 338.02ZM341.71 338.02L347.54 342.64L335.13 356.08L329.30 351.47ZM329.30 351.47L335.13 356.08L322.73 370.08L316.90 365.48ZM316.90 365.48L322.73 370.08L310.33 385.51L304.49 380.92ZM508.81 155.49L514.64 157.64L502.23 172.38L496.40 170.23ZM496.40 170.23L502.23 172.38L489.83 187.37L484.00 185.22ZM484.00 185.22L489.83 187.37L477.42 202.22L471.59 200.06ZM471.59 200.06L477.42 202.22L465.02 216.47L459.19 214.30ZM459.19 214.30L465.02 216.47L452.61 231.24L446.78 229.07ZM446.78 229.07L452.61 231.24L440.21 245.64L434.38 242.97ZM434.38 242.97L440.21 245.64L427.80 260.54L421.97 257.37ZM421.97 257.37L427.80 260.54L415.40 275.43L409.56 271.77ZM409.56 271.77L415.40 275.43L402.99 289.46L397.16 285.31ZM397.16 285.31L402.99 289.46L390.59 303.49L384.75 298.85ZM384.75 298.85L390.59 303.49L378.18 317.63L372.35 313.01ZM372.35 313.01L378.18 317.63L365.78 332.11L359.94 327.49ZM359.94 327.49L365.78 332.11L353.37 347.25L347.54 342.64ZM347.54 342.64L353.37 347.25L340.97 360.69L335.13 356.08ZM335.13 356.08L340.97 360.69L328.56 374.68L322.73 370.08ZM514.64 157.64L520.47 159.78L508.07 174.53L502.23 172.38ZM502.23 172.38L508.07 174.53L495.66 189.53L489.83 187.37ZM489.83 187.37L495.66 189.53L483.26 204.38L477.42 202.22ZM477.42 202.22L483.26 204.38L470.85 218.63L465.02 216.47ZM465.02 216.47L470.85 218.63L458.45 233.41L452.61 231.24ZM452.61 231.24L458.45 233.41L446.04 247.82L440.21 245.64ZM440.21 245.64L446.04 247.82L433.64 262.73L427.80 260.54ZM427.80 260.54L433.64 262.73L421.23 277.62L415.40 275.43ZM415.40 275.43L421.23 277.62L408.83 291.66L402.99 289.46ZM402.99 289.46L408.83 291.66L396.42 305.69L390.59 303.49ZM390.59 303.49L396.42 305.69L384.02 320.33L378.18 317.63ZM378.18 317.63L384.02 320.33L371.61 335.29L365.78 332.11ZM365.78 332.11L371.61 335.29L359.21 350.91L353.37 347.25ZM353.37 347.25L359.21 350.91L346.80 364.82L340.97 360.69ZM340.97 360.69L346.80 364.82L334.40 379.28L328.56 374.68ZM520.47 159.78L526.31 161.92L513.90 176.68L508.07 174.53ZM508.07 174.53L513.90 176.68L501.50 191.68L495.66 189.53ZM495.66 189.53L501.50 191.68L489.09 206.54L483.26 204.38ZM483.26 204.38L489.09 206.54L476.69 220.80L470.85 218.63ZM470.85 218.63L476.69 220.80L464.28 235.58L458.45 233.41ZM458.45 233.41L464.28 235.58L451.88 250.00L446.04 247.82ZM446.04 247.82L451.88 250.00L439.47 264.91L433.64 262.73ZM433.64 262.73L439.47 264.91L427.07 279.81L421.23 277.62ZM421.23 277.62L427.07 279.81L414.66 293.85L408.83 291.66ZM408.83 291.66L414.66 293.85L402.26 307.89L396.42 305.69ZM396.42 305.69L402.26 307.89L389.85 322.53L384.02 320.33ZM384.02 320.33L389.85 322.53L377.45 337.50L371.61 335.29ZM371.61 335.29L377.45 337.50L365.04 353.13L359.21 350.91ZM359.21 350.91L365.04 353.13L352.64 367.04L346.80 364.82ZM346.80 364.82L352.64 367.04L340.23 381.51L334.40 379.28ZM526.31 161.92L532.14 164.07L519.73 178.83L513.90 176.68ZM513.90 176.68L519.73 178.83L507.33 193.84L501.50 191.68ZM501.50 191.68L507.33 193.84L494.92 208.70L489.09 206.54ZM489.09 206.54L494.92 208.70L482.52 222.96L476.69 220.80ZM476.69 220.80L482.52 222.96L470.11 237.76L464.28 235.58ZM464.28 235.58L470.11 237.76L457.71 252.18L451.88 250.00ZM451.88 250.00L457.71 252.18L445.30 267.09L439.47 264.91ZM439.47 264.91L445.30 267.09L432.90 282.00L427.07 279.81ZM427.07 279.81L432.90 282.00L420.49 296.05L414.66 293.85ZM414.66 293.85L420.49 296.05L408.09 310.09L402.26 307.89ZM402.26 307.89L408.09 310.09L395.68 324.74L389.85 322.53ZM389.85 322.53L395.68 324.74L383.28 339.71L377.45 337.50ZM377.45 337.50L383.28 339.71L370.87 355.34L365.04 353.13ZM365.04 353.13L370.87 355.34L358.47 369.27L352.64 367.04ZM352.64 367.04L358.47 369.27L346.06 383.74L340.23 381.51ZM532.14 164.07L537.97 166.21L525.57 180.98L519.73 178.83ZM519.73 178.83L525.57 180.98L513.16 195.99L507.33 193.84ZM507.33 193.84L513.16 195.99L500.76 210.86L494.92 208.70ZM494.92 208.70L500.76 210.86L488.35 225.13L482.52 222.96ZM482.52 222.96L488.35 225.13L475.95 239.93L470.11 237.76ZM470.11 237.76L475.95 239.93L463.54 254.35L457.71 252.18ZM457.71 252.18L463.54 254.35L451.14 269.27L445.30 267.09ZM445.30 267.09L451.14 269.27L438.73 284.19L432.90 282.00ZM432.90 282.00L438.73 284.19L426.33 298.24L420.49 296.05ZM420.49 296.05L426.33 298.24L413.92 312.29L408.09 310.09ZM408.09 310.09L413.92 312.29L401.52 326.94L395.68 324.74ZM395.68 324.74L401.52 326.94L389.11 341.92L383.28 339.71ZM383.28 339.71L389.11 341.92L376.71 357.56L370.87 355.34ZM370.87 355.34L376.71 357.56L364.30 371.49L358.47 369.27ZM358.47 369.27L364.30 371.49L351.90 385.97L346.06 383.74ZM537.97 166.21L543.81 168.35L531.40 183.13L525.57 180.98ZM525.57 180.98L531.40 183.13L519.00 198.15L513.16 195.99ZM513.16 195.99L519.00 198.15L506.59 213.02L500.76 210.86ZM500.76 210.86L506.59 213.02L494.19 227.30L488.35 225.13ZM488.35 225.13L494.19 227.30L481.78 242.10L475.95 239.93ZM475.95 239.93L481.78 242.10L469.38 256.53L463.54 254.35ZM463.54 254.35L469.38 256.53L456.97 271.46L451.14 269.27ZM451.14 269.27L456.97 271.46L444.57 286.38L438.73 284.19ZM438.73 284.19L444.57 286.38L432.16 300.44L426.33 298.24ZM426.33 298.24L432.16 300.44L419.76 314.49L413.92 312.29ZM413.92 312.29L419.76 314.49L407.35 329.15L401.52 326.94ZM401.52 326.94L407.35 329.15L394.95 344.13L389.11 341.92ZM389.11 341.92L394.95 344.13L382.54 359.78L376.71 357.56ZM376.71 357.56L382.54 359.78L370.14 373.71L364.30 371.49ZM543.81 168.35L549.64 170.50L537.23 185.28L531.40 183.13ZM531.40 183.13L537.23 185.28L524.83 200.30L519.00 198.15ZM519.00 198.15L524.83 200.30L512.42 215.18L506.59 213.02ZM506.59 213.02L512.42 215.18L500.02 229.46L494.19 227.30ZM494.19 227.30L500.02 229.46L487.61 244.27L481.78 242.10ZM481.78 242.10L487.61 244.27L475.21 258.71L469.38 256.53ZM469.38 256.53L475.21 258.71L462.80 273.64L456.97 271.46ZM456.97 271.46L462.80 273.64L450.40 288.56L444.57 286.38ZM444.57 286.38L450.40 288.56L437.99 302.63L432.16 300.44ZM432.16 300.44L437.99 302.63L425.59 316.69L419.76 314.49ZM419.76 314.49L425.59 316.69L413.18 331.35L407.35 329.15ZM407.35 329.15L413.18 331.35L400.78 346.34L394.95 344.13ZM394.95 344.13L400.78 346.34L388.37 361.99L382.54 359.78ZM382.54 359.78L388.37 361.99L375.97 375.93L370.14 373.71ZM549.64 170.50L555.47 172.64L543.07 187.42L537.23 185.28ZM537.23 185.28L543.07 187.42L530.66 202.46L524.83 200.30ZM524.83 200.30L530.66 202.46L518.26 217.34L512.42 215.18ZM512.42 215.18L518.26 217.34L505.85 231.63L500.02 229.46ZM500.02 229.46L505.85 231.63L493.45 246.44L487.61 244.27ZM487.61 244.27L493.45 246.44L481.04 260.88L475.21 258.71ZM475.21 258.71L481.04 260.88L468.64 275.82L462.80 273.64ZM462.80 273.64L468.64 275.82L456.23 290.75L450.40 288.56ZM450.40 288.56L456.23 290.75L443.83 304.82L437.99 302.63ZM437.99 302.63L443.83 304.82L431.42 318.89L425.59 316.69ZM425.59 316.69L431.42 318.89L419.02 333.56L413.18 331.35ZM413.18 331.35L419.02 333.56L406.61 348.55L400.78 346.34ZM400.78 346.34L406.61 348.55L394.21 364.21L388.37 361.99ZM388.37 361.99L394.21 364.21L381.80 378.16L375.97 375.93ZM555.47 172.64L561.31 174.78L548.90 189.57L543.07 187.42ZM543.07 187.42L548.90 189.57L536.50 204.61L530.66 202.46ZM530.66 202.46L536.50 204.61L524.09 219.50L518.26 217.34ZM518.26 217.34L524.09 219.50L511.69 233.79L505.85 231.63ZM505.85 231.63L511.69 233.79L499.28 248.61L493.45 246.44ZM493.45 246.44L499.28 248.61L486.88 263.06L481.04 260.88ZM481.04 260.88L486.88 263.06L474.47 278.01L468.64 275.82ZM468.64 275.82L474.47 278.01L462.07 292.94L456.23 290.75ZM456.23 290.75L462.07 292.94L449.66 307.02L443.83 304.82ZM443.83 304.82L449.66 307.02L437.26 321.09L431.42 318.89ZM431.42 318.89L437.26 321.09L424.85 335.76L419.02 333.56ZM419.02 333.56L424.85 335.76L412.45 350.76L406.61 348.55ZM406.61 348.55L412.45 350.76L400.04 366.43L394.21 364.21ZM394.21 364.21L400.04 366.43L387.64 380.38L381.80 378.16ZM561.31 174.78L567.14 176.93L554.74 191.72L548.90 189.57ZM548.90 189.57L554.74 191.72L542.33 206.77L536.50 204.61ZM536.50 204.61L542.33 206.77L529.92 221.66L524.09 219.50ZM524.09 219.50L529.92 221.66L517.52 235.96L511.69 233.79ZM511.69 233.79L517.52 235.96L505.12 250.79L499.28 248.61ZM499.28 248.61L505.12 250.79L492.71 265.24L486.88 263.06ZM486.88 263.06L492.71 265.24L480.31 280.19L474.47 278.01ZM474.47 278.01L480.31 280.19L467.90 295.13L462.07 292.94ZM462.07 292.94L467.90 295.13L455.50 309.21L449.66 307.02ZM449.66 307.02L455.50 309.21L443.09 323.29L437.26 321.09ZM437.26 321.09L443.09 323.29L430.69 337.97L424.85 335.76ZM424.85 335.76L430.69 337.97L418.28 352.98L412.45 350.76ZM412.45 350.76L418.28 352.98L405.88 368.64L400.04 366.43ZM400.04 366.43L405.88 368.64L393.47 382.60L387.64 380.38ZM567.14 176.93L572.97 179.07L560.57 193.87L554.74 191.72ZM554.74 191.72L560.57 193.87L548.16 208.92L542.33 206.77ZM542.33 206.77L548.16 208.92L535.76 223.82L529.92 221.66ZM529.92 221.66L535.76 223.82L523.35 238.13L517.52 235.96ZM517.52 235.96L523.35 238.13L510.95 252.96L505.12 250.79ZM505.12 250.79L510.95 252.96L498.54 267.42L492.71 265.24ZM492.71 265.24L498.54 267.42L486.14 282.37L480.31 280.19ZM480.31 280.19L486.14 282.37L473.73 297.32L467.90 295.13ZM467.90 295.13L473.73 297.32L461.33 311.41L455.50 309.21ZM455.50 309.21L461.33 311.41L448.92 325.48L443.09 323.29ZM443.09 323.29L448.92 325.48L436.52 340.17L430.69 337.97ZM430.69 337.97L436.52 340.17L424.11 355.19L418.28 352.98ZM418.28 352.98L424.11 355.19L411.71 370.86L405.88 368.64ZM572.97 179.07L578.81 181.21L566.40 196.02L560.57 193.87ZM560.57 193.87L566.40 196.02L554.00 211.08L548.16 208.92ZM548.16 208.92L554.00 211.08L541.59 225.98L535.76 223.82ZM535.76 223.82L541.59 225.98L529.19 240.29L523.35 238.13ZM523.35 238.13L529.19 240.29L516.78 255.13L510.95 252.96ZM510.95 252.96L516.78 255.13L504.38 269.59L498.54 267.42ZM498.54 267.42L504.38 269.59L491.97 284.56L486.14 282.37ZM486.14 282.37L491.97 284.56L479.57 299.51L473.73 297.32ZM473.73 297.32L479.57 299.51L467.16 313.60L461.33 311.41ZM461.33 311.41L467.16 313.60L454.76 327.68L448.92 325.48ZM448.92 325.48L454.76 327.68L442.35 342.38L436.52 340.17ZM436.52 340.17L442.35 342.38L429.95 357.40L424.11 355.19ZM424.11 355.19L429.95 357.40L417.54 373.08L411.71 370.86ZM578.81 181.21L584.64 183.36L572.24 198.17L566.40 196.02ZM566.40 196.02L572.24 198.17L559.83 213.23L554.00 211.08ZM554.00 211.08L559.83 213.23L547.43 228.14L541.59 225.98ZM541.59 225.98L547.43 228.14L535.02 242.46L529.19 240.29ZM529.19 240.29L535.02 242.46L522.62 257.30L516.78 255.13ZM516.78 255.13L522.62 257.30L510.21 271.77L504.38 269.59ZM504.38 269.59L510.21 271.77L497.81 286.74L491.97 284.56ZM491.97 284.56L497.81 286.74L485.40 301.70L479.57 299.51ZM479.57 299.51L485.40 301.70L473.00 315.79L467.16 313.60ZM467.16 313.60L473.00 315.79L460.59 329.88L454.76 327.68ZM454.76 327.68L460.59 329.88L448.19 344.59L442.35 342.38ZM442.35 342.38L448.19 344.59L435.78 359.61L429.95 357.40ZM429.95 357.40L435.78 359.61L423.38 375.29L417.54 373.08ZM584.64 183.36L590.47 185.50L578.07 200.32L572.24 198.17ZM572.24 198.17L578.07 200.32L565.66 215.39L559.83 213.23ZM559.83 213.23L565.66 215.39L553.26 230.30L547.43 228.14ZM547.43 228.14L553.26 230.30L540.85 244.62L535.02 242.46ZM535.02 242.46L540.85 244.62L528.45 259.47L522.62 257.30ZM522.62 257.30L528.45 259.47L516.04 273.95L510.21 271.77ZM510.21 271.77L516.04 273.95L503.64 288.92L497.81 286.74ZM497.81 286.74L503.64 288.92L491.23 303.88L485.40 301.70ZM485.40 301.70L491.23 303.88L478.83 317.99L473.00 315.79ZM473.00 315.79L478.83 317.99L466.42 332.08L460.59 329.88ZM460.59 329.88L466.42 332.08L454.02 346.79L448.19 344.59ZM448.19 344.59L454.02 346.79L441.61 361.82L435.78 359.61ZM435.78 359.61L441.61 361.82L429.21 377.51L423.38 375.29ZM590.47 185.50L596.31 187.64L583.90 202.47L578.07 200.32ZM578.07 200.32L583.90 202.47L571.50 217.54L565.66 215.39ZM565.66 215.39L571.50 217.54L559.09 232.46L553.26 230.30ZM553.26 230.30L559.09 232.46L546.69 246.79L540.85 244.62ZM540.85 244.62L546.69 246.79L534.28 261.64L528.45 259.47ZM528.45 259.47L534.28 261.64L521.88 276.13L516.04 273.95ZM516.04 273.95L521.88 276.13L509.47 291.10L503.64 288.92ZM503.64 288.92L509.47 291.10L497.07 306.07L491.23 303.88ZM491.23 303.88L497.07 306.07L484.66 320.18L478.83 317.99ZM478.83 317.99L484.66 320.18L472.26 334.28L466.42 332.08ZM466.42 332.08L472.26 334.28L459.85 349.00L454.02 346.79ZM454.02 346.79L459.85 349.00L447.45 364.03L441.61 361.82ZM441.61 361.82L447.45 364.03L435.04 379.73L429.21 377.51ZM596.31 187.64L602.14 189.79L589.74 204.62L583.90 202.47ZM583.90 202.47L589.74 204.62L577.33 219.69L571.50 217.54ZM571.50 217.54L577.33 219.69L564.93 234.62L559.09 232.46ZM559.09 232.46L564.93 234.62L552.52 248.96L546.69 246.79ZM546.69 246.79L552.52 248.96L540.12 263.82L534.28 261.64ZM534.28 261.64L540.12 263.82L527.71 278.30L521.88 276.13ZM521.88 276.13L527.71 278.30L515.31 293.29L509.47 291.10ZM509.47 291.10L515.31 293.29L502.90 308.26L497.07 306.07ZM497.07 306.07L502.90 308.26L490.50 322.38L484.66 320.18ZM484.66 320.18L490.50 322.38L478.09 336.48L472.26 334.28ZM472.26 334.28L478.09 336.48L465.69 351.20L459.85 349.00ZM459.85 349.00L465.69 351.20L453.28 366.24L447.45 364.03ZM602.14 189.79L607.97 191.93L595.57 206.77L589.74 204.62ZM589.74 204.62L595.57 206.77L583.16 221.85L577.33 219.69ZM577.33 219.69L583.16 221.85L570.76 236.78L564.93 234.62ZM564.93 234.62L570.76 236.78L558.35 251.12L552.52 248.96ZM552.52 248.96L558.35 251.12L545.95 265.99L540.12 263.82ZM540.12 263.82L545.95 265.99L533.54 280.48L527.71 278.30ZM527.71 278.30L533.54 280.48L521.14 295.47L515.31 293.29ZM515.31 293.29L521.14 295.47L508.73 310.45L502.90 308.26ZM502.90 308.26L508.73 310.45L496.33 324.57L490.50 322.38ZM490.50 322.38L496.33 324.57L483.92 338.68L478.09 336.48ZM478.09 336.48L483.92 338.68L471.52 353.41L465.69 351.20ZM465.69 351.20L471.52 353.41L459.11 368.45L453.28 366.24ZM607.97 191.93L613.81 194.07L601.40 208.92L595.57 206.77ZM595.57 206.77L601.40 208.92L589.00 224.00L583.16 221.85ZM583.16 221.85L589.00 224.00L576.59 238.94L570.76 236.78ZM570.76 236.78L576.59 238.94L564.19 253.29L558.35 251.12ZM558.35 251.12L564.19 253.29L551.78 268.16L545.95 265.99ZM545.95 265.99L551.78 268.16L539.38 282.66L533.54 280.48ZM533.54 280.48L539.38 282.66L526.97 297.65L521.14 295.47ZM521.14 295.47L526.97 297.65L514.57 312.64L508.73 310.45ZM508.73 310.45L514.57 312.64L502.16 326.77L496.33 324.57ZM496.33 324.57L502.16 326.77L489.76 340.88L483.92 338.68ZM483.92 338.68L489.76 340.88L477.35 355.61L471.52 353.41ZM471.52 353.41L477.35 355.61L464.95 370.66L459.11 368.45ZM613.81 194.07L619.64 196.22L607.24 211.06L601.40 208.92ZM601.40 208.92L607.24 211.06L594.83 226.16L589.00 224.00ZM589.00 224.00L594.83 226.16L582.43 241.11L576.59 238.94ZM576.59 238.94L582.43 241.11L570.02 255.45L564.19 253.29ZM564.19 253.29L570.02 255.45L557.62 270.33L551.78 268.16ZM551.78 268.16L557.62 270.33L545.21 284.83L539.38 282.66ZM539.38 282.66L545.21 284.83L532.81 299.84L526.97 297.65ZM526.97 297.65L532.81 299.84L520.40 314.83L514.57 312.64ZM514.57 312.64L520.40 314.83L508.00 328.96L502.16 326.77ZM502.16 326.77L508.00 328.96L495.59 343.08L489.76 340.88ZM489.76 340.88L495.59 343.08L483.19 357.82L477.35 355.61ZM477.35 355.61L483.19 357.82L470.78 372.88L464.95 370.66ZM619.64 196.22L625.48 198.36L613.07 213.21L607.24 211.06ZM607.24 211.06L613.07 213.21L600.66 228.31L594.83 226.16ZM594.83 226.16L600.66 228.31L588.26 243.27L582.43 241.11ZM582.43 241.11L588.26 243.27L575.86 257.62L570.02 255.45ZM570.02 255.45L575.86 257.62L563.45 272.50L557.62 270.33ZM557.62 270.33L563.45 272.50L551.05 287.01L545.21 284.83ZM545.21 284.83L551.05 287.01L538.64 302.02L532.81 299.84ZM532.81 299.84L538.64 302.02L526.24 317.02L520.40 314.83ZM520.40 314.83L526.24 317.02L513.83 331.15L508.00 328.96ZM508.00 328.96L513.83 331.15L501.43 345.28L495.59 343.08ZM495.59 343.08L501.43 345.28L489.02 360.02L483.19 357.82ZM483.19 357.82L489.02 360.02L476.62 375.09L470.78 372.88ZM625.48 198.36L631.31 200.50L618.90 215.36L613.07 213.21ZM613.07 213.21L618.90 215.36L606.50 230.47L600.66 228.31ZM600.66 228.31L606.50 230.47L594.09 245.43L588.26 243.27ZM588.26 243.27L594.09 245.43L581.69 259.79L575.86 257.62ZM575.86 257.62L581.69 259.79L569.28 274.67L563.45 272.50ZM563.45 272.50L569.28 274.67L556.88 289.19L551.05 287.01ZM551.05 287.01L556.88 289.19L544.47 304.20L538.64 302.02ZM538.64 302.02L544.47 304.20L532.07 319.20L526.24 317.02ZM526.24 317.02L532.07 319.20L519.66 333.35L513.83 331.15ZM513.83 331.15L519.66 333.35L507.26 347.48L501.43 345.28ZM501.43 345.28L507.26 347.48L494.85 362.23L489.02 360.02Z" fill="#fff" stroke="#fff" stroke-width="0.6"/>
<path d="M333.80 5.12L339.63 15.45M333.80 5.12L321.39 17.96" stroke="#f5f523"/>
<path d="M321.39 17.96L327.23 28.33M321.39 17.96L308.99 31.02" stroke="#f7ef26"/>
<path d="M308.99 31.02L314.82 41.44M308.99 31.02L296.58 43.91" stroke="#f9e929"/>
<path d="M296.58 43.91L302.42 54.38M296.58 43.91L284.18 56.18" stroke="#fbe32c"/>
<path d="M284.18 56.18L290.01 66.69M284.18 56.18L271.78 68.96M362.97 40.46L368.80 45.16M362.97 40.46L350.56 54.84" stroke="#fbdb31"/>
<path d="M271.78 68.96L277.61 79.51M271.78 68.96L259.37 81.57" stroke="#face39"/>
<path d="M259.37 81.57L265.20 92.11M259.37 81.57L246.97 94.68M332.32 64.79L338.16 69.48M332.32 64.79L319.92 79.30" stroke="#f8c241"/>
<path d="M246.97 94.68L252.80 105.21M246.97 94.68L234.56 107.80M373.90 73.63L379.73 78.33M373.90 73.63L361.49 88.24" stroke="#f4bc49"/>
<path d="M234.56 107.80L240.39 118.31M234.56 107.80L222.15 120.07" stroke="#e8bf4b"/>
<path d="M222.15 120.07L227.99 130.56M222.15 120.07L209.75 132.34" stroke="#d0ce42"/>
<path d="M209.75 132.34L215.58 142.81M209.75 132.34L197.35 145.29" stroke="#b4d940"/>
<path d="M197.35 145.29L203.18 155.73M197.35 145.29L184.94 158.58" stroke="#87d552"/>
<path d="M184.94 158.58L190.77 168.99M184.94 158.58L172.54 172.54M270.30 136.30L276.13 140.96M270.30 136.30L257.89 149.82" stroke="#59d065"/>
<path d="M172.54 172.54L178.37 182.93M172.54 172.54L160.13 184.81" stroke="#31cd78"/>
<path d="M160.13 184.81L165.96 195.17M160.13 184.81L147.72 197.64" stroke="#23cd84"/>
<path d="M147.72 197.64L153.56 207.98M147.72 197.64L135.32 211.04M281.23 169.47L287.06 174.12M281.23 169.47L268.82 183.17M419.09 158.92L424.92 163.60M419.09 158.92L406.68 172.71" stroke="#14cd91"/>
<path d="M135.32 211.04L141.15 221.49M135.32 211.04L122.92 222.75M322.80 178.21L328.63 182.87M322.80 178.21L310.40 192.72" stroke="#0ccda4"/>
<path d="M122.92 222.75L128.75 233.31M122.92 222.75L110.51 236.15M208.27 200.24L214.11 210.65M208.27 200.24L195.87 214.09M519.73 178.83L525.57 180.98M519.73 178.83L507.33 193.84M596.31 187.64L602.14 189.79M596.31 187.64L583.90 202.47" stroke="#05cdb3"/>
<path d="M110.51 236.15L116.34 246.82M110.51 236.15L98.11 247.85M195.87 214.09L201.70 224.47M195.87 214.09L183.46 226.24M376.04 196.34L381.87 201.00M376.04 196.34L363.63 210.81" stroke="#01ccc6"/>
<path d="M98.11 247.85L103.94 258.64M98.11 247.85L85.70 257.58M303.82 211.03L309.66 215.67M303.82 211.03L291.42 224.67" stroke="#03cad4"/>
<path d="M85.70 257.58L91.53 268.48M134.58 243.86L140.42 254.42M134.58 243.86L122.18 257.49" stroke="#05c8de"/>
<path d="M339.63 15.45L345.47 25.78M339.63 15.45L327.23 28.33" stroke="#f7ee27"/>
<path d="M327.23 28.33L333.06 38.71M327.23 28.33L314.82 41.44" stroke="#fae829"/>
<path d="M314.82 41.44L320.66 51.86M314.82 41.44L302.42 54.38" stroke="#fce22c"/>
<path d="M302.42 54.38L308.25 64.84M302.42 54.38L290.01 66.69" stroke="#fbd734"/>
<path d="M290.01 66.69L295.85 77.20M290.01 66.69L277.61 79.51" stroke="#f9cb3c"/>
<path d="M277.61 79.51L283.44 90.07M277.61 79.51L265.20 92.11M392.13 63.98L397.97 68.68M392.13 63.98L379.73 78.33" stroke="#f8be44"/>
<path d="M265.20 92.11L271.04 102.65M265.20 92.11L252.80 105.21" stroke="#f3bb4b"/>
<path d="M252.80 105.21L258.63 115.73M252.80 105.21L240.39 118.31M361.49 88.24L367.32 92.93M361.49 88.24L349.09 102.71" stroke="#e2c349"/>
<path d="M240.39 118.31L246.23 128.81M240.39 118.31L227.99 130.56" stroke="#c7d43f"/>
<path d="M227.99 130.56L233.82 141.05M227.99 130.56L215.58 142.81" stroke="#a5d846"/>
<path d="M215.58 142.81L221.42 153.28M215.58 142.81L203.18 155.73" stroke="#7dd456"/>
<path d="M203.18 155.73L209.01 166.18M203.18 155.73L190.77 168.99" stroke="#51cf69"/>
<path d="M190.77 168.99L196.61 179.41M190.77 168.99L178.37 182.93M395.75 140.18L401.59 144.87M395.75 140.18L383.35 154.00" stroke="#30cd79"/>
<path d="M178.37 182.93L184.20 193.31M178.37 182.93L165.96 195.17" stroke="#1ecd88"/>
<path d="M165.96 195.17L171.80 205.53M165.96 195.17L153.56 207.98M395.02 163.36L400.85 168.03M395.02 163.36L382.61 177.70" stroke="#12cd95"/>
<path d="M153.56 207.98L159.39 218.31M153.56 207.98L141.15 221.49M490.57 167.57L496.40 170.23M490.57 167.57L478.16 182.05M561.31 174.78L567.14 176.93M561.31 174.78L548.90 189.57" stroke="#0acda7"/>
<path d="M141.15 221.49L146.99 231.93M141.15 221.49L128.75 233.31M394.28 187.04L400.11 191.71M394.28 187.04L381.87 201.00M448.26 182.33L454.09 187.02M448.26 182.33L435.85 196.09" stroke="#02cdba"/>
<path d="M128.75 233.31L134.58 243.86M128.75 233.31L116.34 246.82M322.06 202.02L327.90 206.67M322.06 202.02L309.66 215.67M507.33 193.84L513.16 195.99M507.33 193.84L494.92 208.70M583.90 202.47L589.74 204.62M583.90 202.47L571.50 217.54" stroke="#02cbc9"/>
<path d="M116.34 246.82L122.18 257.49M116.34 246.82L103.94 258.64M201.70 224.47L207.54 231.86M201.70 224.47L189.30 236.60M363.63 210.81L369.47 215.46M363.63 210.81L351.23 225.27M483.26 204.38L489.09 206.54M483.26 204.38L470.85 218.63M559.83 213.23L565.66 215.39M559.83 213.23L547.43 228.14" stroke="#04c9db"/>
<path d="M103.94 258.64L109.77 269.42M103.94 258.64L91.53 268.48" stroke="#07c3e2"/>
<path d="M91.53 268.48L97.37 279.37" stroke="#09bee4"/>
<path d="M345.47 25.78L351.30 31.05M345.47 25.78L333.06 38.71" stroke="#fae72a"/>
<path d="M333.06 38.71L338.90 45.45M333.06 38.71L320.66 51.86M357.13 35.75L362.97 40.46M357.13 35.75L344.73 50.15" stroke="#fce12d"/>
<path d="M320.66 51.86L326.49 60.10M320.66 51.86L308.25 64.84" stroke="#fad436"/>
<path d="M308.25 64.84L314.09 74.61M308.25 64.84L295.85 77.20" stroke="#f9c73e"/>
<path d="M295.85 77.20L301.68 87.71M295.85 77.20L283.44 90.07" stroke="#f7bd46"/>
<path d="M283.44 90.07L289.28 100.63M283.44 90.07L271.04 102.65" stroke="#f1bb4d"/>
<path d="M271.04 102.65L276.87 113.18M271.04 102.65L258.63 115.73" stroke="#ddc647"/>
<path d="M258.63 115.73L264.47 126.25M258.63 115.73L246.23 128.81" stroke="#c2d83d"/>
<path d="M246.23 128.81L252.06 139.32M246.23 128.81L233.82 141.05" stroke="#97d64c"/>
<path d="M233.82 141.05L239.66 151.54M233.82 141.05L221.42 153.28" stroke="#6ed25c"/>
<path d="M221.42 153.28L227.25 163.76M221.42 153.28L209.01 166.18" stroke="#46ce6d"/>
<path d="M209.01 166.18L214.85 176.62M209.01 166.18L196.61 179.41M371.68 144.65L377.52 149.33M371.68 144.65L359.28 159.02" stroke="#2dcd7c"/>
<path d="M196.61 179.41L202.44 189.82M196.61 179.41L184.20 193.31M467.23 148.79L473.07 153.48M467.23 148.79L454.83 163.29" stroke="#1dcd89"/>
<path d="M184.20 193.31L190.04 203.70M184.20 193.31L171.80 205.53" stroke="#10cd9b"/>
<path d="M171.80 205.53L177.63 215.89M171.80 205.53L159.39 218.31" stroke="#08cdab"/>
<path d="M159.39 218.31L165.23 228.64M159.39 218.31L146.99 231.93M286.32 197.10L292.16 201.74M286.32 197.10L273.92 210.76" stroke="#01cdbd"/>
<path d="M146.99 231.93L152.82 242.37M146.99 231.93L134.58 243.86M524.83 200.30L530.66 202.46M524.83 200.30L512.42 215.18M601.40 208.92L607.24 211.06M601.40 208.92L589.00 224.00" stroke="#02cbcf"/>
<path d="M122.18 257.49L128.01 268.16M122.18 257.49L109.77 269.42M213.37 236.47L219.20 241.09M213.37 236.47L200.96 250.07M243.28 235.04L249.11 239.66M243.28 235.04L230.87 250.32M435.11 219.73L440.95 224.40M435.11 219.73L422.71 233.64M476.69 220.80L482.52 222.96M476.69 220.80L464.28 235.58M547.43 228.14L553.26 230.30M547.43 228.14L535.02 242.46" stroke="#09c0e4"/>
<path d="M109.77 269.42L115.61 280.20M109.77 269.42L97.37 279.37M225.04 245.71L230.87 250.32M225.04 245.71L212.63 259.29M254.94 244.28L260.78 248.90M254.94 244.28L242.54 259.55M446.78 229.07L452.61 231.24M446.78 229.07L434.38 242.97M523.35 238.13L529.19 240.29M523.35 238.13L510.95 252.96M594.09 245.43L581.69 259.79" stroke="#0cb8e6"/>
<path d="M97.37 279.37L103.20 290.27M290.68 248.19L296.51 252.82M290.68 248.19L278.28 262.77M344.66 243.53L350.49 248.17M344.66 243.53L332.25 257.13M475.95 239.93L481.78 242.10M475.95 239.93L463.54 254.35" stroke="#0fb3e8"/>
<path d="M351.30 31.05L357.13 35.75M351.30 31.05L338.90 45.45" stroke="#fbe42c"/>
<path d="M338.90 45.45L344.73 50.15M338.90 45.45L326.49 60.10" stroke="#fbd733"/>
<path d="M326.49 60.10L332.32 64.79M326.49 60.10L314.09 74.61" stroke="#f9c83e"/>
<path d="M314.09 74.61L319.92 79.30M314.09 74.61L301.68 87.71M397.97 68.68L403.80 73.38M397.97 68.68L385.56 83.03" stroke="#f5bd47"/>
<path d="M301.68 87.71L307.51 93.21M301.68 87.71L289.28 100.63" stroke="#efbb4e"/>
<path d="M289.28 100.63L295.11 107.65M289.28 100.63L276.87 113.18" stroke="#d5cb44"/>
<path d="M276.87 113.18L282.70 121.73M276.87 113.18L264.47 126.25" stroke="#bada3e"/>
<path d="M264.47 126.25L270.30 136.30M264.47 126.25L252.06 139.32" stroke="#8dd550"/>
<path d="M252.06 139.32L257.89 149.82M252.06 139.32L239.66 151.54M378.25 126.13L384.09 130.82M378.25 126.13L365.85 139.97" stroke="#60d162"/>
<path d="M239.66 151.54L245.49 162.02M239.66 151.54L227.25 163.76" stroke="#38cd73"/>
<path d="M227.25 163.76L233.08 174.23M227.25 163.76L214.85 176.62M263.73 155.53L269.56 160.18M263.73 155.53L251.32 169.24M401.59 144.87L407.42 149.55M401.59 144.87L389.18 158.68" stroke="#29cd7f"/>
<path d="M214.85 176.62L220.68 187.06M214.85 176.62L202.44 189.82M497.14 148.65L502.97 153.35M497.14 148.65L484.73 162.88" stroke="#1acd8c"/>
<path d="M202.44 189.82L208.27 200.24M202.44 189.82L190.04 203.70M262.99 178.52L268.82 183.17M262.99 178.52L250.58 192.22M400.85 168.03L406.68 172.71M400.85 168.03L388.45 182.37M532.14 164.07L537.97 166.21M532.14 164.07L519.73 178.83" stroke="#0fcd9d"/>
<path d="M190.04 203.70L195.87 214.09M190.04 203.70L177.63 215.89M304.56 188.07L310.40 192.72M304.56 188.07L292.16 201.74M513.90 176.68L519.73 178.83M513.90 176.68L501.50 191.68M590.47 185.50L596.31 187.64M590.47 185.50L578.07 200.32" stroke="#06cdb1"/>
<path d="M177.63 215.89L183.46 226.24M177.63 215.89L165.23 228.64M316.23 197.37L322.06 202.02M316.23 197.37L303.82 211.03M484.00 185.22L489.83 187.37M484.00 185.22L471.59 200.06M560.57 193.87L566.40 196.02M560.57 193.87L548.16 208.92" stroke="#00cdc1"/>
<path d="M165.23 228.64L171.06 238.97M165.23 228.64L152.82 242.37M327.90 206.67L333.73 211.32M327.90 206.67L315.49 220.31M465.76 196.38L471.59 200.06M465.76 196.38L453.35 210.12M530.66 202.46L536.50 204.61M530.66 202.46L518.26 217.34M607.24 211.06L613.07 213.21M607.24 211.06L594.83 226.16" stroke="#03cad1"/>
<path d="M152.82 242.37L158.65 252.82M152.82 242.37L140.42 254.42M399.37 214.99L405.21 219.65M399.37 214.99L386.97 229.43M453.35 210.12L459.19 214.30M453.35 210.12L440.95 224.40M512.42 215.18L518.26 217.34M512.42 215.18L500.02 229.46M589.00 224.00L594.83 226.16M589.00 224.00L576.59 238.94" stroke="#06c6e2"/>
<path d="M140.42 254.42L146.25 264.97M140.42 254.42L128.01 268.16M273.18 234.31L279.01 238.94M273.18 234.31L260.78 248.90M327.16 229.60L332.99 234.24M327.16 229.60L314.75 243.22M381.14 224.78L386.97 229.43M381.14 224.78L368.73 239.22M482.52 222.96L488.35 225.13M482.52 222.96L470.11 237.76M553.26 230.30L559.09 232.46M553.26 230.30L540.85 244.62" stroke="#09bfe4"/>
<path d="M128.01 268.16L133.84 278.82M128.01 268.16L115.61 280.20M368.73 239.22L374.56 243.87M368.73 239.22L356.33 252.81M464.28 235.58L470.11 237.76M464.28 235.58L451.88 250.00M540.85 244.62L546.69 246.79M540.85 244.62L528.45 259.47" stroke="#0eb5e7"/>
<path d="M115.61 280.20L121.44 290.98M115.61 280.20L103.20 290.27M326.42 252.49L332.25 257.13M326.42 252.49L314.02 266.71M581.69 259.79L569.28 274.67" stroke="#12ade9"/>
<path d="M103.20 290.27L109.03 301.16M194.39 268.83L200.23 273.43M194.39 268.83L181.99 284.41M278.28 262.77L284.11 267.39M278.28 262.77L265.87 278.02M416.14 252.71L421.97 257.37M416.14 252.71L403.73 267.12M463.54 254.35L469.38 256.53M463.54 254.35L451.14 269.27M540.12 263.82L545.95 265.99M540.12 263.82L527.71 278.30" stroke="#16a8ea"/>
<path d="M344.73 50.15L350.56 54.84M344.73 50.15L332.32 64.79" stroke="#fad237"/>
<path d="M319.92 79.30L325.75 83.98M319.92 79.30L307.51 93.21M403.80 73.38L409.64 78.09M403.80 73.38L391.40 87.72" stroke="#f3bb4a"/>
<path d="M307.51 93.21L313.35 97.88M307.51 93.21L295.11 107.65" stroke="#e0c448"/>
<path d="M295.11 107.65L300.94 112.32M295.11 107.65L282.70 121.73M432.97 96.90L438.80 101.61M432.97 96.90L420.56 111.21" stroke="#c1d83d"/>
<path d="M282.70 121.73L288.54 126.39M282.70 121.73L270.30 136.30" stroke="#8fd54f"/>
<path d="M257.89 149.82L263.73 155.53M257.89 149.82L245.49 162.02M449.73 134.69L455.57 139.39M449.73 134.69L437.33 149.22" stroke="#32cd77"/>
<path d="M245.49 162.02L251.32 169.24M245.49 162.02L233.08 174.23M461.40 144.09L467.23 148.79M461.40 144.09L448.99 158.60" stroke="#24cd83"/>
<path d="M233.08 174.23L238.92 182.95M233.08 174.23L220.68 187.06M473.07 153.48L478.90 158.18M473.07 153.48L460.66 167.98" stroke="#16cd8f"/>
<path d="M220.68 187.06L226.51 197.27M220.68 187.06L208.27 200.24M238.92 182.95L244.75 187.58M238.92 182.95L226.51 197.27" stroke="#0dcda0"/>
<path d="M183.46 226.24L189.30 236.60M183.46 226.24L171.06 238.97M387.71 205.66L393.54 210.33M387.71 205.66L375.30 220.12" stroke="#03cad6"/>
<path d="M171.06 238.97L176.89 249.30M171.06 238.97L158.65 252.82M291.42 224.67L297.25 229.31M291.42 224.67L279.01 238.94M518.26 217.34L524.09 219.50M518.26 217.34L505.85 231.63M594.83 226.16L600.66 228.31M594.83 226.16L582.43 241.11" stroke="#06c5e2"/>
<path d="M158.65 252.82L164.49 263.26M158.65 252.82L146.25 264.97M176.89 249.30L182.73 259.63M176.89 249.30L164.49 263.26M279.01 238.94L284.85 243.57M279.01 238.94L266.61 253.53M332.99 234.24L338.82 238.88M332.99 234.24L320.59 247.85M386.97 229.43L392.80 234.09M386.97 229.43L374.56 243.87M505.85 231.63L511.69 233.79M505.85 231.63L493.45 246.44M576.59 238.94L582.43 241.11M576.59 238.94L564.19 253.29" stroke="#0bbbe5"/>
<path d="M146.25 264.97L152.08 275.53M146.25 264.97L133.84 278.82M230.87 250.32L236.70 254.94M230.87 250.32L218.46 263.90M260.78 248.90L266.61 253.53M260.78 248.90L248.37 264.17M470.11 237.76L475.95 239.93M470.11 237.76L457.71 252.18" stroke="#0eb4e7"/>
<path d="M133.84 278.82L139.68 289.49M133.84 278.82L121.44 290.98M332.25 257.13L338.09 261.76M332.25 257.13L319.85 271.34M528.45 259.47L534.28 261.64M528.45 259.47L516.04 273.95" stroke="#15aaea"/>
<path d="M121.44 290.98L127.27 301.76M121.44 290.98L109.03 301.16M498.54 267.42L504.38 269.59M498.54 267.42L486.14 282.37M569.28 274.67L556.88 289.19" stroke="#1aa2ec"/>
<path d="M109.03 301.16L114.87 312.06M181.99 284.41L187.82 289.01M181.99 284.41L169.58 298.37M295.78 276.64L301.61 281.26M295.78 276.64L283.37 291.86M456.97 271.46L462.80 273.64M456.97 271.46L444.57 286.38M533.54 280.48L539.38 282.66M533.54 280.48L521.14 295.47" stroke="#1f9ced"/>
<path d="M350.56 54.84L356.40 59.54M350.56 54.84L338.16 69.48" stroke="#facc3b"/>
<path d="M338.16 69.48L343.99 74.17M338.16 69.48L325.75 83.98" stroke="#f7be45"/>
<path d="M325.75 83.98L331.59 88.66M325.75 83.98L313.35 97.88" stroke="#f0ba4d"/>
<path d="M313.35 97.88L319.18 102.56M313.35 97.88L300.94 112.32" stroke="#d4cc44"/>
<path d="M300.94 112.32L306.78 116.99M300.94 112.32L288.54 126.39" stroke="#aed842"/>
<path d="M288.54 126.39L294.37 131.05M288.54 126.39L276.13 140.96" stroke="#7bd457"/>
<path d="M276.13 140.96L281.97 145.62M276.13 140.96L263.73 155.53" stroke="#45ce6d"/>
<path d="M251.32 169.24L257.16 173.88M251.32 169.24L238.92 182.95M389.18 158.68L395.02 163.36M389.18 158.68L376.78 173.03" stroke="#18cd8e"/>
<path d="M226.51 197.27L232.35 201.90M226.51 197.27L214.11 210.65" stroke="#04cdb6"/>
<path d="M214.11 210.65L219.94 216.55M214.11 210.65L201.70 224.47M268.09 206.13L273.92 210.76M268.09 206.13L255.68 220.42" stroke="#01ccc8"/>
<path d="M189.30 236.60L195.13 245.47M189.30 236.60L176.89 249.30M267.35 229.68L273.18 234.31M267.35 229.68L254.94 244.28M321.32 224.95L327.16 229.60M321.32 224.95L308.92 238.58M375.30 220.12L381.14 224.78M375.30 220.12L362.90 234.57M459.19 214.30L465.02 216.47M459.19 214.30L446.78 229.07M529.92 221.66L535.76 223.82M529.92 221.66L517.52 235.96M606.50 230.47L594.09 245.43" stroke="#07c3e3"/>
<path d="M164.49 263.26L170.32 273.70M164.49 263.26L152.08 275.53M374.56 243.87L380.40 248.52M374.56 243.87L362.16 257.45M487.61 244.27L493.45 246.44M487.61 244.27L475.21 258.71" stroke="#10b1e8"/>
<path d="M152.08 275.53L157.92 286.09M152.08 275.53L139.68 289.49M248.37 264.17L254.20 268.78M248.37 264.17L235.97 277.73M534.28 261.64L540.12 263.82M534.28 261.64L521.88 276.13" stroke="#16a9ea"/>
<path d="M139.68 289.49L145.51 300.16M139.68 289.49L127.27 301.76" stroke="#1d9fed"/>
<path d="M127.27 301.76L133.11 312.55M127.27 301.76L114.87 312.06" stroke="#2893ef"/>
<path d="M114.87 312.06L120.70 322.95M229.39 296.44L235.23 301.05M229.39 296.44L216.99 311.99M283.37 291.86L289.21 296.48M283.37 291.86L270.97 305.38M444.57 286.38L450.40 288.56M444.57 286.38L432.16 300.44" stroke="#318af0"/>
<path d="M368.80 45.16L374.63 49.87M368.80 45.16L356.40 59.54" stroke="#fbd535"/>
<path d="M356.40 59.54L362.23 64.24M356.40 59.54L343.99 74.17" stroke="#f9c63f"/>
<path d="M343.99 74.17L349.82 78.86M343.99 74.17L331.59 88.66" stroke="#f5bc48"/>
<path d="M331.59 88.66L337.42 93.35M331.59 88.66L319.18 102.56" stroke="#e6c04a"/>
<path d="M319.18 102.56L325.01 107.24M319.18 102.56L306.78 116.99" stroke="#c8d340"/>
<path d="M306.78 116.99L312.61 121.66M306.78 116.99L294.37 131.05M444.64 106.31L450.47 111.02M444.64 106.31L432.23 120.60" stroke="#9ad74b"/>
<path d="M294.37 131.05L300.20 135.72M294.37 131.05L281.97 145.62" stroke="#67d260"/>
<path d="M281.97 145.62L287.80 150.27M281.97 145.62L269.56 160.18" stroke="#35cd75"/>
<path d="M269.56 160.18L275.39 164.82M269.56 160.18L257.16 173.88M407.42 149.55L413.25 154.23M407.42 149.55L395.02 163.36" stroke="#22cd85"/>
<path d="M257.16 173.88L262.99 178.52M257.16 173.88L244.75 187.58" stroke="#12cd94"/>
<path d="M244.75 187.58L250.58 192.22M244.75 187.58L232.35 201.90" stroke="#0acda8"/>
<path d="M232.35 201.90L238.18 206.53M232.35 201.90L219.94 216.55M424.18 186.74L430.02 191.42M424.18 186.74L411.78 201.05" stroke="#00cdbe"/>
<path d="M219.94 216.55L225.77 221.17M219.94 216.55L207.54 231.86M357.80 206.15L363.63 210.81M357.80 206.15L345.40 220.62M536.50 204.61L542.33 206.77M536.50 204.61L524.09 219.50M613.07 213.21L618.90 215.36M613.07 213.21L600.66 228.31" stroke="#03cad3"/>
<path d="M207.54 231.86L213.37 236.47M207.54 231.86L195.13 245.47M237.44 230.41L243.28 235.04M237.44 230.41L225.04 245.71M429.28 215.06L435.11 219.73M429.28 215.06L416.87 228.98M524.09 219.50L529.92 221.66M524.09 219.50L511.69 233.79M600.66 228.31L606.50 230.47M600.66 228.31L588.26 243.27" stroke="#07c4e2"/>
<path d="M195.13 245.47L200.96 250.07M195.13 245.47L182.73 259.63M416.87 228.98L422.71 233.64M416.87 228.98L404.47 243.40" stroke="#0bbae5"/>
<path d="M182.73 259.63L188.56 264.23M182.73 259.63L170.32 273.70M236.70 254.94L242.54 259.55M236.70 254.94L224.30 268.51M266.61 253.53L272.44 258.15M266.61 253.53L254.20 268.78M564.19 253.29L570.02 255.45M564.19 253.29L551.78 268.16" stroke="#10b0e8"/>
<path d="M170.32 273.70L176.15 279.82M170.32 273.70L157.92 286.09M338.09 261.76L343.92 266.40M338.09 261.76L325.68 275.97M551.78 268.16L557.62 270.33M551.78 268.16L539.38 282.66" stroke="#18a6eb"/>
<path d="M157.92 286.09L163.75 293.78M157.92 286.09L145.51 300.16M349.75 271.03L355.59 275.67M349.75 271.03L337.35 285.23M445.30 267.09L451.14 269.27M445.30 267.09L432.90 282.00M521.88 276.13L527.71 278.30M521.88 276.13L509.47 291.10" stroke="#1d9eed"/>
<path d="M145.51 300.16L151.34 309.49M145.51 300.16L133.11 312.55M503.64 288.92L509.47 291.10M503.64 288.92L491.23 303.88" stroke="#2d8fef"/>
<path d="M133.11 312.55L138.94 323.33M133.11 312.55L120.70 322.95M349.02 294.49L354.85 299.12M349.02 294.49L336.61 309.00M473.73 297.32L479.57 299.51M473.73 297.32L461.33 311.41" stroke="#3a82f1"/>
<path d="M120.70 322.95L126.53 333.85M157.18 314.07L163.01 318.66M157.18 314.07L144.77 328.15M384.75 298.85L390.59 303.49M384.75 298.85L372.35 313.01M437.99 302.63L443.83 304.82M437.99 302.63L425.59 316.69" stroke="#4379f3"/>
<path d="M374.63 49.87L380.47 54.57M374.63 49.87L362.23 64.24" stroke="#facf39"/>
<path d="M362.23 64.24L368.06 68.93M362.23 64.24L349.82 78.86" stroke="#f8c043"/>
<path d="M349.82 78.86L355.66 83.55M349.82 78.86L337.42 93.35" stroke="#f2bb4b"/>
<path d="M337.42 93.35L343.25 98.03M337.42 93.35L325.01 107.24" stroke="#dac846"/>
<path d="M325.01 107.24L330.85 111.91M325.01 107.24L312.61 121.66" stroke="#bbda3d"/>
<path d="M312.61 121.66L318.44 126.33M312.61 121.66L300.20 135.72M450.47 111.02L456.30 115.72M450.47 111.02L438.06 125.30" stroke="#86d553"/>
<path d="M300.20 135.72L306.04 140.38M300.20 135.72L287.80 150.27" stroke="#53d068"/>
<path d="M287.80 150.27L293.63 154.93M287.80 150.27L275.39 164.82" stroke="#2ecd7b"/>
<path d="M275.39 164.82L281.23 169.47M275.39 164.82L262.99 178.52M413.25 154.23L419.09 158.92M413.25 154.23L400.85 168.03" stroke="#1bcd8b"/>
<path d="M250.58 192.22L256.42 196.86M250.58 192.22L238.18 206.53" stroke="#06cdb0"/>
<path d="M238.18 206.53L244.01 211.16M238.18 206.53L225.77 221.17M292.16 201.74L297.99 206.38M292.16 201.74L279.75 215.40M430.02 191.42L435.85 196.09M430.02 191.42L417.61 205.72M495.66 189.53L501.50 191.68M495.66 189.53L483.26 204.38M572.24 198.17L578.07 200.32M572.24 198.17L559.83 213.23" stroke="#01ccc5"/>
<path d="M225.77 221.17L231.61 225.79M225.77 221.17L213.37 236.47M417.61 205.72L423.45 210.39M417.61 205.72L405.21 219.65" stroke="#04c9da"/>
<path d="M200.96 250.07L206.80 254.68M200.96 250.07L188.56 264.23M422.71 233.64L428.54 238.31M422.71 233.64L410.30 248.06M458.45 233.41L464.28 235.58M458.45 233.41L446.04 247.82M535.02 242.46L540.85 244.62M535.02 242.46L522.62 257.30" stroke="#0db6e7"/>
<path d="M188.56 264.23L194.39 268.83M188.56 264.23L176.15 279.82M242.54 259.55L248.37 264.17M242.54 259.55L230.13 273.12M272.44 258.15L278.28 262.77M272.44 258.15L260.04 273.40M440.21 245.64L446.04 247.82M440.21 245.64L427.80 260.54" stroke="#13ace9"/>
<path d="M176.15 279.82L181.99 284.41M176.15 279.82L163.75 293.78M373.83 266.74L379.66 271.38M373.83 266.74L361.42 280.31M510.21 271.77L516.04 273.95M510.21 271.77L497.81 286.74" stroke="#1ca0ec"/>
<path d="M163.75 293.78L169.58 298.37M163.75 293.78L151.34 309.49M415.40 275.43L421.23 277.62M415.40 275.43L402.99 289.46" stroke="#2993ef"/>
<path d="M151.34 309.49L157.18 314.07M151.34 309.49L138.94 323.33M181.25 307.54L187.08 312.13M181.25 307.54L168.85 323.24" stroke="#3c80f2"/>
<path d="M138.94 323.33L144.77 328.15M138.94 323.33L126.53 333.85M467.16 313.60L473.00 315.79M467.16 313.60L454.76 327.68" stroke="#4b76f3"/>
<path d="M126.53 333.85L132.37 340.31M502.16 326.77L508.00 328.96M502.16 326.77L489.76 340.88" stroke="#5473f2"/>
<path d="M380.47 54.57L386.30 59.27M380.47 54.57L368.06 68.93" stroke="#f9c93c"/>
<path d="M368.06 68.93L373.90 73.63M368.06 68.93L355.66 83.55" stroke="#f6bd46"/>
<path d="M355.66 83.55L361.49 88.24M355.66 83.55L343.25 98.03" stroke="#eebb4d"/>
<path d="M343.25 98.03L349.09 102.71M343.25 98.03L330.85 111.91" stroke="#ced042"/>
<path d="M330.85 111.91L336.68 116.59M330.85 111.91L318.44 126.33" stroke="#a7d845"/>
<path d="M318.44 126.33L324.28 131.00M318.44 126.33L306.04 140.38M456.30 115.72L462.14 120.42M456.30 115.72L443.90 130.00" stroke="#72d35b"/>
<path d="M306.04 140.38L311.87 145.04M306.04 140.38L293.63 154.93" stroke="#3ece70"/>
<path d="M293.63 154.93L299.47 159.59M293.63 154.93L281.23 169.47" stroke="#27cd81"/>
<path d="M268.82 183.17L274.66 187.81M268.82 183.17L256.42 196.86M406.68 172.71L412.52 177.39M406.68 172.71L394.28 187.04M555.47 172.64L561.31 174.78M555.47 172.64L543.07 187.42" stroke="#0bcda5"/>
<path d="M256.42 196.86L262.25 201.49M256.42 196.86L244.01 211.16" stroke="#02cdb8"/>
<path d="M244.01 211.16L249.85 215.79M244.01 211.16L231.61 225.79M435.85 196.09L441.68 200.77M435.85 196.09L423.45 210.39M519.00 198.15L524.83 200.30M519.00 198.15L506.59 213.02M595.57 206.77L601.40 208.92M595.57 206.77L583.16 221.85" stroke="#02cbcd"/>
<path d="M231.61 225.79L237.44 230.41M231.61 225.79L219.20 241.09M423.45 210.39L429.28 215.06M423.45 210.39L411.04 224.32M500.76 210.86L506.59 213.02M500.76 210.86L488.35 225.13M577.33 219.69L583.16 221.85M577.33 219.69L564.93 234.62" stroke="#05c8e1"/>
<path d="M219.20 241.09L225.04 245.71M219.20 241.09L206.80 254.68M440.95 224.40L446.78 229.07M440.95 224.40L428.54 238.31" stroke="#0abce5"/>
<path d="M206.80 254.68L212.63 259.29M206.80 254.68L194.39 268.83M428.54 238.31L434.38 242.97M428.54 238.31L416.14 252.71M481.78 242.10L487.61 244.27M481.78 242.10L469.38 256.53M552.52 248.96L558.35 251.12M552.52 248.96L540.12 263.82" stroke="#0fb2e8"/>
<path d="M169.58 298.37L175.42 302.95M169.58 298.37L157.18 314.07" stroke="#2f8df0"/>
<path d="M144.77 328.15L150.61 332.73M144.77 328.15L132.37 340.31M490.50 322.38L496.33 324.57M490.50 322.38L478.09 336.48" stroke="#5174f2"/>
<path d="M132.37 340.31L138.20 344.88M156.44 337.30L162.27 341.88M156.44 337.30L144.03 349.45M395.68 324.74L401.52 326.94M395.68 324.74L383.28 339.71M466.42 332.08L472.26 334.28M466.42 332.08L454.02 346.79" stroke="#5c70f1"/>
<path d="M386.30 59.27L392.13 63.98M386.30 59.27L373.90 73.63" stroke="#f9c440"/>
<path d="M349.09 102.71L354.92 107.40M349.09 102.71L336.68 116.59" stroke="#c2d73d"/>
<path d="M336.68 116.59L342.52 121.27M336.68 116.59L324.28 131.00" stroke="#93d64e"/>
<path d="M324.28 131.00L330.11 135.67M324.28 131.00L311.87 145.04M462.14 120.42L467.97 125.13M462.14 120.42L449.73 134.69" stroke="#5dd163"/>
<path d="M311.87 145.04L317.71 149.70M311.87 145.04L299.47 159.59" stroke="#33cd77"/>
<path d="M299.47 159.59L305.30 164.24M299.47 159.59L287.06 174.12" stroke="#20cd87"/>
<path d="M287.06 174.12L292.89 178.77M287.06 174.12L274.66 187.81M424.92 163.60L430.76 168.28M424.92 163.60L412.52 177.39" stroke="#10cd99"/>
<path d="M274.66 187.81L280.49 192.45M274.66 187.81L262.25 201.49M466.49 172.67L472.33 177.36M466.49 172.67L454.09 187.02M502.23 172.38L508.07 174.53M502.23 172.38L489.83 187.37M578.81 181.21L584.64 183.36M578.81 181.21L566.40 196.02" stroke="#08cdad"/>
<path d="M262.25 201.49L268.09 206.13M262.25 201.49L249.85 215.79" stroke="#00cdc0"/>
<path d="M249.85 215.79L255.68 220.42M249.85 215.79L237.44 230.41M441.68 200.77L447.52 205.45M441.68 200.77L429.28 215.06M542.33 206.77L548.16 208.92M542.33 206.77L529.92 221.66M618.90 215.36L606.50 230.47" stroke="#03cad5"/>
<path d="M212.63 259.29L218.46 263.90M212.63 259.29L200.23 273.43M296.51 252.82L302.35 257.45M296.51 252.82L284.11 267.39M350.49 248.17L356.33 252.81M350.49 248.17L338.09 261.76M404.47 243.40L410.30 248.06M404.47 243.40L392.06 257.82M499.28 248.61L505.12 250.79M499.28 248.61L486.88 263.06M570.02 255.45L575.86 257.62M570.02 255.45L557.62 270.33" stroke="#11afe9"/>
<path d="M200.23 273.43L206.06 278.03M200.23 273.43L187.82 289.01M254.20 268.78L260.04 273.40M254.20 268.78L241.80 282.34M557.62 270.33L563.45 272.50M557.62 270.33L545.21 284.83" stroke="#19a5eb"/>
<path d="M187.82 289.01L193.66 293.60M187.82 289.01L175.42 302.95M301.61 281.26L307.44 285.89M301.61 281.26L289.21 296.48" stroke="#2596ee"/>
<path d="M175.42 302.95L181.25 307.54M175.42 302.95L163.01 318.66M532.81 299.84L538.64 302.02M532.81 299.84L520.40 314.83" stroke="#3586f1"/>
<path d="M163.01 318.66L168.85 323.24M163.01 318.66L150.61 332.73M192.92 316.72L198.75 321.31M192.92 316.72L180.51 332.40M455.50 309.21L461.33 311.41M455.50 309.21L443.09 323.29M526.24 317.02L532.07 319.20M526.24 317.02L513.83 331.15" stroke="#4877f3"/>
<path d="M150.61 332.73L156.44 337.30M150.61 332.73L138.20 344.88M443.09 323.29L448.92 325.48M443.09 323.29L430.69 337.97" stroke="#5672f2"/>
<path d="M138.20 344.88L144.03 349.45" stroke="#626ff1"/>
<path d="M379.73 78.33L385.56 83.03M379.73 78.33L367.32 92.93" stroke="#f1bb4c"/>
<path d="M367.32 92.93L373.16 97.62M367.32 92.93L354.92 107.40" stroke="#d6cb45"/>
<path d="M354.92 107.40L360.75 112.08M354.92 107.40L342.52 121.27" stroke="#b1d941"/>
<path d="M342.52 121.27L348.35 125.94M342.52 121.27L330.11 135.67" stroke="#7ed456"/>
<path d="M330.11 135.67L335.94 140.34M330.11 135.67L317.71 149.70M467.97 125.13L473.80 129.83M467.97 125.13L455.57 139.39" stroke="#49cf6c"/>
<path d="M317.71 149.70L323.54 154.37M317.71 149.70L305.30 164.24" stroke="#2ccd7d"/>
<path d="M305.30 164.24L311.13 168.90M305.30 164.24L292.89 178.77" stroke="#19cd8d"/>
<path d="M292.89 178.77L298.73 183.42M292.89 178.77L280.49 192.45M430.76 168.28L436.59 172.97M430.76 168.28L418.35 182.06M543.81 168.35L549.64 170.50M543.81 168.35L531.40 183.13" stroke="#0dcda1"/>
<path d="M280.49 192.45L286.32 197.10M280.49 192.45L268.09 206.13M418.35 182.06L424.18 186.74M418.35 182.06L405.95 196.38M472.33 177.36L478.16 182.05M472.33 177.36L459.92 191.70M525.57 180.98L531.40 183.13M525.57 180.98L513.16 195.99M602.14 189.79L607.97 191.93M602.14 189.79L589.74 204.62" stroke="#04cdb5"/>
<path d="M255.68 220.42L261.51 225.05M255.68 220.42L243.28 235.04M309.66 215.67L315.49 220.31M309.66 215.67L297.25 229.31" stroke="#04c9dc"/>
<path d="M218.46 263.90L224.30 268.51M218.46 263.90L206.06 278.03M302.35 257.45L308.18 262.08M302.35 257.45L289.94 272.02M356.33 252.81L362.16 257.45M356.33 252.81L343.92 266.40M446.04 247.82L451.88 250.00M446.04 247.82L433.64 262.73M522.62 257.30L528.45 259.47M522.62 257.30L510.21 271.77" stroke="#14abea"/>
<path d="M206.06 278.03L211.89 282.64M206.06 278.03L193.66 293.60M260.04 273.40L265.87 278.02M260.04 273.40L247.63 286.95M289.94 272.02L295.78 276.64M289.94 272.02L277.54 287.25M397.90 262.47L403.73 267.12M397.90 262.47L385.49 276.03M433.64 262.73L439.47 264.91M433.64 262.73L421.23 277.62M504.38 269.59L510.21 271.77M504.38 269.59L491.97 284.56" stroke="#1ba1ec"/>
<path d="M193.66 293.60L199.49 298.20M193.66 293.60L181.25 307.54M223.56 291.84L229.39 296.44M223.56 291.84L211.16 307.39M277.54 287.25L283.37 291.86M277.54 287.25L265.13 300.77M307.44 285.89L313.28 290.51M307.44 285.89L295.04 301.10M497.81 286.74L503.64 288.92M497.81 286.74L485.40 301.70" stroke="#2b90ef"/>
<path d="M168.85 323.24L174.68 327.82M168.85 323.24L156.44 337.30M478.83 317.99L484.66 320.18M478.83 317.99L466.42 332.08" stroke="#4e75f2"/>
<path d="M144.03 349.45L149.87 354.02M168.11 346.45L173.94 351.03M168.11 346.45L155.70 358.59M436.52 340.17L442.35 342.38M436.52 340.17L424.11 355.19M507.26 347.48L494.85 362.23" stroke="#676df1"/>
<path d="M385.56 83.03L391.40 87.72M385.56 83.03L373.16 97.62" stroke="#eabe4c"/>
<path d="M373.16 97.62L378.99 102.32M373.16 97.62L360.75 112.08" stroke="#cad240"/>
<path d="M360.75 112.08L366.59 116.76M360.75 112.08L348.35 125.94" stroke="#9cd74a"/>
<path d="M348.35 125.94L354.18 130.62M348.35 125.94L335.94 140.34" stroke="#6ad25e"/>
<path d="M335.94 140.34L341.78 145.01M335.94 140.34L323.54 154.37M473.80 129.83L479.64 134.53M473.80 129.83L461.40 144.09" stroke="#36cd74"/>
<path d="M323.54 154.37L329.37 159.03M323.54 154.37L311.13 168.90" stroke="#25cd83"/>
<path d="M311.13 168.90L316.97 173.55M311.13 168.90L298.73 183.42" stroke="#13cd93"/>
<path d="M298.73 183.42L304.56 188.07M298.73 183.42L286.32 197.10M567.14 176.93L572.97 179.07M567.14 176.93L554.74 191.72" stroke="#09cda9"/>
<path d="M273.92 210.76L279.75 215.40M273.92 210.76L261.51 225.05" stroke="#03cad0"/>
<path d="M261.51 225.05L267.35 229.68M261.51 225.05L249.11 239.66M315.49 220.31L321.32 224.95M315.49 220.31L303.09 233.94" stroke="#06c7e1"/>
<path d="M249.11 239.66L254.94 244.28M249.11 239.66L236.70 254.94M500.02 229.46L505.85 231.63M500.02 229.46L487.61 244.27M570.76 236.78L576.59 238.94M570.76 236.78L558.35 251.12" stroke="#0bbce5"/>
<path d="M224.30 268.51L230.13 273.12M224.30 268.51L211.89 282.64M308.18 262.08L314.02 266.71M308.18 262.08L295.78 276.64M362.16 257.45L367.99 262.10M362.16 257.45L349.75 271.03M469.38 256.53L475.21 258.71M469.38 256.53L456.97 271.46M545.95 265.99L551.78 268.16M545.95 265.99L533.54 280.48" stroke="#17a7eb"/>
<path d="M211.89 282.64L217.73 287.24M211.89 282.64L199.49 298.20M265.87 278.02L271.70 282.63M265.87 278.02L253.47 291.56M403.73 267.12L409.56 271.77M403.73 267.12L391.33 280.67M451.14 269.27L456.97 271.46M451.14 269.27L438.73 284.19M527.71 278.30L533.54 280.48M527.71 278.30L515.31 293.29" stroke="#1e9ded"/>
<path d="M199.49 298.20L205.32 302.80M199.49 298.20L187.08 312.13M313.28 290.51L319.11 295.13M313.28 290.51L300.87 305.71M521.14 295.47L526.97 297.65M521.14 295.47L508.73 310.45" stroke="#328af0"/>
<path d="M187.08 312.13L192.92 316.72M187.08 312.13L174.68 327.82M432.16 300.44L437.99 302.63M432.16 300.44L419.76 314.49M502.90 308.26L508.73 310.45M502.90 308.26L490.50 322.38" stroke="#427af3"/>
<path d="M174.68 327.82L180.51 332.40M174.68 327.82L162.27 341.88M204.58 325.90L210.42 330.49M204.58 325.90L192.18 341.57M431.42 318.89L437.26 321.09M431.42 318.89L419.02 333.56" stroke="#5373f2"/>
<path d="M162.27 341.88L168.11 346.45M162.27 341.88L149.87 354.02M413.18 331.35L419.02 333.56M413.18 331.35L400.78 346.34M483.92 338.68L489.76 340.88M483.92 338.68L471.52 353.41" stroke="#616ff1"/>
<path d="M149.87 354.02L155.70 358.59M173.94 351.03L179.77 355.60M173.94 351.03L161.54 363.16M383.28 339.71L389.11 341.92M383.28 339.71L370.87 355.34M454.02 346.79L459.85 349.00M454.02 346.79L441.61 361.82" stroke="#6c6bf0"/>
<path d="M391.40 87.72L397.23 92.42M391.40 87.72L378.99 102.32" stroke="#dec648"/>
<path d="M378.99 102.32L384.83 107.01M378.99 102.32L366.59 116.76" stroke="#beda3c"/>
<path d="M366.59 116.76L372.42 121.45M366.59 116.76L354.18 130.62" stroke="#88d552"/>
<path d="M354.18 130.62L360.02 135.30M354.18 130.62L341.78 145.01" stroke="#56d066"/>
<path d="M341.78 145.01L347.61 149.68M341.78 145.01L329.37 159.03M479.64 134.53L485.47 139.24M479.64 134.53L467.23 148.79" stroke="#2fcd7a"/>
<path d="M329.37 159.03L335.21 163.69M329.37 159.03L316.97 173.55" stroke="#1ecd89"/>
<path d="M316.97 173.55L322.80 178.21M316.97 173.55L304.56 188.07" stroke="#0fcd9b"/>
<path d="M279.75 215.40L285.59 220.04M279.75 215.40L267.35 229.68M471.59 200.06L477.42 202.22M471.59 200.06L459.19 214.30M548.16 208.92L554.00 211.08M548.16 208.92L535.76 223.82" stroke="#04c9d7"/>
<path d="M230.13 273.12L235.97 277.73M230.13 273.12L217.73 287.24M492.71 265.24L498.54 267.42M492.71 265.24L480.31 280.19" stroke="#1aa3ec"/>
<path d="M217.73 287.24L223.56 291.84M217.73 287.24L205.32 302.80M551.05 287.01L556.88 289.19M551.05 287.01L538.64 302.02" stroke="#2597ee"/>
<path d="M205.32 302.80L211.16 307.39M205.32 302.80L192.92 316.72M235.23 301.05L241.06 305.65M235.23 301.05L222.82 316.58M289.21 296.48L295.04 301.10M289.21 296.48L276.80 309.99M319.11 295.13L324.94 299.75M319.11 295.13L306.71 310.33M467.90 295.13L473.73 297.32M467.90 295.13L455.50 309.21" stroke="#3884f1"/>
<path d="M180.51 332.40L186.35 336.98M180.51 332.40L168.11 346.45M384.02 320.33L389.85 322.53M384.02 320.33L371.61 335.29M454.76 327.68L460.59 329.88M454.76 327.68L442.35 342.38" stroke="#5971f2"/>
<path d="M155.70 358.59L161.54 363.16M179.77 355.60L185.61 360.18M179.77 355.60L167.37 367.72M406.61 348.55L412.45 350.76M406.61 348.55L394.21 364.21M477.35 355.61L483.19 357.82M477.35 355.61L464.95 370.66" stroke="#7269f0"/>
<path d="M409.64 78.09L415.47 82.79M409.64 78.09L397.23 92.42" stroke="#f0ba4e"/>
<path d="M397.23 92.42L403.06 97.12M397.23 92.42L384.83 107.01" stroke="#d2cd43"/>
<path d="M384.83 107.01L390.66 111.70M384.83 107.01L372.42 121.45" stroke="#a9d844"/>
<path d="M372.42 121.45L378.25 126.13M372.42 121.45L360.02 135.30" stroke="#74d35a"/>
<path d="M360.02 135.30L365.85 139.97M360.02 135.30L347.61 149.68" stroke="#42ce6f"/>
<path d="M347.61 149.68L353.44 154.35M347.61 149.68L335.21 163.69M485.47 139.24L491.30 143.94M485.47 139.24L473.07 153.48" stroke="#28cd80"/>
<path d="M335.21 163.69L341.04 168.36M335.21 163.69L322.80 178.21" stroke="#17cd8f"/>
<path d="M310.40 192.72L316.23 197.37M310.40 192.72L297.99 206.38M537.23 185.28L543.07 187.42M537.23 185.28L524.83 200.30M613.81 194.07L619.64 196.22M613.81 194.07L601.40 208.92" stroke="#02cdb9"/>
<path d="M297.99 206.38L303.82 211.03M297.99 206.38L285.59 220.04" stroke="#02cbcc"/>
<path d="M285.59 220.04L291.42 224.67M285.59 220.04L273.18 234.31M494.92 208.70L500.76 210.86M494.92 208.70L482.52 222.96M571.50 217.54L577.33 219.69M571.50 217.54L559.09 232.46" stroke="#05c8df"/>
<path d="M235.97 277.73L241.80 282.34M235.97 277.73L223.56 291.84M319.85 271.34L325.68 275.97M319.85 271.34L307.44 285.89M439.47 264.91L445.30 267.09M439.47 264.91L427.07 279.81M516.04 273.95L521.88 276.13M516.04 273.95L503.64 288.92" stroke="#1c9fec"/>
<path d="M211.16 307.39L216.99 311.99M211.16 307.39L198.75 321.31M241.06 305.65L246.89 310.25M241.06 305.65L228.66 321.18M295.04 301.10L300.87 305.71M295.04 301.10L282.63 314.60M420.49 296.05L426.33 298.24M420.49 296.05L408.09 310.09" stroke="#3e7ef2"/>
<path d="M198.75 321.31L204.58 325.90M198.75 321.31L186.35 336.98M408.09 310.09L413.92 312.29M408.09 310.09L395.68 324.74" stroke="#4d75f2"/>
<path d="M186.35 336.98L192.18 341.57M186.35 336.98L173.94 351.03M216.25 335.08L222.08 339.66M216.25 335.08L203.85 350.73M401.52 326.94L407.35 329.15M401.52 326.94L389.11 341.92M472.26 334.28L478.09 336.48M472.26 334.28L459.85 349.00" stroke="#5e70f1"/>
<path d="M161.54 363.16L167.37 367.72" stroke="#7268ef"/>
<path d="M415.47 82.79L421.30 87.50M415.47 82.79L403.06 97.12" stroke="#e5c14a"/>
<path d="M403.06 97.12L408.90 101.81M403.06 97.12L390.66 111.70" stroke="#c6d53f"/>
<path d="M390.66 111.70L396.49 116.39M390.66 111.70L378.25 126.13" stroke="#95d64d"/>
<path d="M365.85 139.97L371.68 144.65M365.85 139.97L353.44 154.35" stroke="#34cd76"/>
<path d="M353.44 154.35L359.28 159.02M353.44 154.35L341.04 168.36" stroke="#21cd85"/>
<path d="M341.04 168.36L346.87 173.02M341.04 168.36L328.63 182.87M514.64 157.64L520.47 159.78M514.64 157.64L502.23 172.38" stroke="#12cd96"/>
<path d="M328.63 182.87L334.47 187.52M328.63 182.87L316.23 197.37" stroke="#08cdac"/>
<path d="M241.80 282.34L247.63 286.95M241.80 282.34L229.39 296.44M462.80 273.64L468.64 275.82M462.80 273.64L450.40 288.56" stroke="#219aed"/>
<path d="M216.99 311.99L222.82 316.58M216.99 311.99L204.58 325.90M330.78 304.38L336.61 309.00M330.78 304.38L318.37 319.56M443.83 304.82L449.66 307.02M443.83 304.82L431.42 318.89M514.57 312.64L520.40 314.83M514.57 312.64L502.16 326.77" stroke="#4578f3"/>
<path d="M192.18 341.57L198.01 346.15M192.18 341.57L179.77 355.60M424.85 335.76L430.69 337.97M424.85 335.76L412.45 350.76M495.59 343.08L501.43 345.28M495.59 343.08L483.19 357.82" stroke="#646ef1"/>
<path d="M167.37 367.72L173.20 372.29M191.44 364.75L197.27 369.33M335.13 356.08L340.97 360.69M335.13 356.08L322.73 370.08M370.87 355.34L376.71 357.56M370.87 355.34L358.47 369.27M447.45 364.03L453.28 366.24M447.45 364.03L435.04 379.73" stroke="#7266ed"/>
<path d="M421.30 87.50L427.14 92.20M421.30 87.50L408.90 101.81" stroke="#d9c946"/>
<path d="M408.90 101.81L414.73 106.51M408.90 101.81L396.49 116.39" stroke="#b7d93f"/>
<path d="M396.49 116.39L402.33 121.08M396.49 116.39L384.09 130.82" stroke="#81d455"/>
<path d="M384.09 130.82L389.92 135.50M384.09 130.82L371.68 144.65" stroke="#4bcf6b"/>
<path d="M359.28 159.02L365.11 163.69M359.28 159.02L346.87 173.02" stroke="#1acd8b"/>
<path d="M346.87 173.02L352.71 177.68M346.87 173.02L334.47 187.52" stroke="#0ecd9e"/>
<path d="M334.47 187.52L340.30 192.18M334.47 187.52L322.06 202.02" stroke="#05cdb4"/>
<path d="M297.25 229.31L303.09 233.94M297.25 229.31L284.85 243.57M351.23 225.27L357.06 229.92M351.23 225.27L338.82 238.88M470.85 218.63L476.69 220.80M470.85 218.63L458.45 233.41M541.59 225.98L547.43 228.14M541.59 225.98L529.19 240.29" stroke="#08c1e3"/>
<path d="M284.85 243.57L290.68 248.19M284.85 243.57L272.44 258.15M338.82 238.88L344.66 243.53M338.82 238.88L326.42 252.49M392.80 234.09L398.64 238.74M392.80 234.09L380.40 248.52M452.61 231.24L458.45 233.41M452.61 231.24L440.21 245.64" stroke="#0db7e6"/>
<path d="M247.63 286.95L253.47 291.56M247.63 286.95L235.23 301.05M331.52 280.60L337.35 285.23M331.52 280.60L319.11 295.13" stroke="#2794ee"/>
<path d="M222.82 316.58L228.66 321.18M222.82 316.58L210.42 330.49M252.73 314.85L258.56 319.45M252.73 314.85L240.32 330.37M306.71 310.33L312.54 314.94M306.71 310.33L294.30 323.82M336.61 309.00L342.44 313.62M336.61 309.00L324.21 324.17M396.42 305.69L402.26 307.89M396.42 305.69L384.02 320.33M532.07 319.20L519.66 333.35" stroke="#4a76f3"/>
<path d="M210.42 330.49L216.25 335.08M210.42 330.49L198.01 346.15M448.92 325.48L454.76 327.68M448.92 325.48L436.52 340.17M519.66 333.35L507.26 347.48" stroke="#5872f2"/>
<path d="M198.01 346.15L203.85 350.73M198.01 346.15L185.61 360.18M227.92 344.25L233.75 348.84M227.92 344.25L215.51 359.89M371.61 335.29L377.45 337.50M371.61 335.29L359.21 350.91M442.35 342.38L448.19 344.59M442.35 342.38L429.95 357.40" stroke="#696cf1"/>
<path d="M185.61 360.18L191.44 364.75M185.61 360.18L173.20 372.29M269.49 353.35L275.32 357.94M269.49 353.35L257.09 367.20M299.40 351.67L305.23 356.27M299.40 351.67L286.99 367.13M353.37 347.25L359.21 350.91M353.37 347.25L340.97 360.69M418.28 352.98L424.11 355.19M418.28 352.98L405.88 368.64M424.11 355.19L429.95 357.40M424.11 355.19L411.71 370.86" stroke="#7368ef"/>
<path d="M427.14 92.20L432.97 96.90M427.14 92.20L414.73 106.51" stroke="#cdd041"/>
<path d="M414.73 106.51L420.56 111.21M414.73 106.51L402.33 121.08" stroke="#a3d747"/>
<path d="M402.33 121.08L408.16 125.77M402.33 121.08L389.92 135.50" stroke="#6cd25d"/>
<path d="M389.92 135.50L395.75 140.18M389.92 135.50L377.52 149.33" stroke="#37cd73"/>
<path d="M377.52 149.33L383.35 154.00M377.52 149.33L365.11 163.69" stroke="#26cd82"/>
<path d="M365.11 163.69L370.94 168.36M365.11 163.69L352.71 177.68" stroke="#14cd92"/>
<path d="M352.71 177.68L358.54 182.35M352.71 177.68L340.30 192.18" stroke="#0bcda6"/>
<path d="M340.30 192.18L346.13 196.84M340.30 192.18L327.90 206.67" stroke="#01cdbc"/>
<path d="M303.09 233.94L308.92 238.58M303.09 233.94L290.68 248.19" stroke="#0abde4"/>
<path d="M253.47 291.56L259.30 296.16M253.47 291.56L241.06 305.65M432.90 282.00L438.73 284.19M432.90 282.00L420.49 296.05" stroke="#2e8eef"/>
<path d="M228.66 321.18L234.49 325.77M228.66 321.18L216.25 335.08M342.44 313.62L348.28 318.24M342.44 313.62L330.04 328.79M419.76 314.49L425.59 316.69M419.76 314.49L407.35 329.15" stroke="#5074f2"/>
<path d="M203.85 350.73L209.68 355.31M203.85 350.73L191.44 364.75" stroke="#6e6af0"/>
<path d="M420.56 111.21L426.40 115.91M420.56 111.21L408.16 125.77" stroke="#8ed54f"/>
<path d="M408.16 125.77L413.99 130.46M408.16 125.77L395.75 140.18" stroke="#58d065"/>
<path d="M383.35 154.00L389.18 158.68M383.35 154.00L370.94 168.36" stroke="#1fcd88"/>
<path d="M370.94 168.36L376.78 173.03M370.94 168.36L358.54 182.35M526.31 161.92L532.14 164.07M526.31 161.92L513.90 176.68" stroke="#10cd9a"/>
<path d="M358.54 182.35L364.37 187.01M358.54 182.35L346.13 196.84" stroke="#07cdae"/>
<path d="M346.13 196.84L351.97 201.49M346.13 196.84L333.73 211.32" stroke="#01ccc4"/>
<path d="M333.73 211.32L339.56 215.97M333.73 211.32L321.32 224.95" stroke="#04c9d8"/>
<path d="M308.92 238.58L314.75 243.22M308.92 238.58L296.51 252.82M362.90 234.57L368.73 239.22M362.90 234.57L350.49 248.17M517.52 235.96L523.35 238.13M517.52 235.96L505.12 250.79M588.26 243.27L594.09 245.43M588.26 243.27L575.86 257.62" stroke="#0cb9e6"/>
<path d="M284.11 267.39L289.94 272.02M284.11 267.39L271.70 282.63M421.97 257.37L427.80 260.54M421.97 257.37L409.56 271.77M486.88 263.06L492.71 265.24M486.88 263.06L474.47 278.01M563.45 272.50L569.28 274.67M563.45 272.50L551.05 287.01" stroke="#19a4eb"/>
<path d="M271.70 282.63L277.54 287.25M271.70 282.63L259.30 296.16M409.56 271.77L415.40 275.43M409.56 271.77L397.16 285.31M474.47 278.01L480.31 280.19M474.47 278.01L462.07 292.94" stroke="#2497ee"/>
<path d="M259.30 296.16L265.13 300.77M259.30 296.16L246.89 310.25M343.18 289.86L349.02 294.49M343.18 289.86L330.78 304.38" stroke="#3488f0"/>
<path d="M246.89 310.25L252.73 314.85M246.89 310.25L234.49 325.77M300.87 305.71L306.71 310.33M300.87 305.71L288.47 319.21M508.73 310.45L514.57 312.64M508.73 310.45L496.33 324.57" stroke="#4478f3"/>
<path d="M234.49 325.77L240.32 330.37M234.49 325.77L222.08 339.66M264.39 324.06L270.23 328.66M264.39 324.06L251.99 339.56M318.37 319.56L324.21 324.17M318.37 319.56L305.97 333.04M437.26 321.09L443.09 323.29M437.26 321.09L424.85 335.76" stroke="#5573f2"/>
<path d="M222.08 339.66L227.92 344.25M222.08 339.66L209.68 355.31" stroke="#636ef1"/>
<path d="M209.68 355.31L215.51 359.89M209.68 355.31L197.27 369.33M239.59 353.43L245.42 358.02M239.59 353.43L227.18 369.06M323.47 346.86L329.30 351.47M323.47 346.86L311.06 360.87M412.45 350.76L418.28 352.98M412.45 350.76L400.04 366.43M483.19 357.82L489.02 360.02M483.19 357.82L470.78 372.88M489.02 360.02L494.85 362.23M489.02 360.02L476.62 375.09" stroke="#7369f0"/>
<path d="M438.80 101.61L444.64 106.31M438.80 101.61L426.40 115.91" stroke="#afd942"/>
<path d="M426.40 115.91L432.23 120.60M426.40 115.91L413.99 130.46" stroke="#7ad358"/>
<path d="M413.99 130.46L419.83 135.15M413.99 130.46L401.59 144.87" stroke="#44ce6e"/>
<path d="M376.78 173.03L382.61 177.70M376.78 173.03L364.37 187.01" stroke="#0ccda2"/>
<path d="M364.37 187.01L370.21 191.67M364.37 187.01L351.97 201.49" stroke="#03cdb6"/>
<path d="M351.97 201.49L357.80 206.15M351.97 201.49L339.56 215.97M513.16 195.99L519.00 198.15M513.16 195.99L500.76 210.86M589.74 204.62L595.57 206.77M589.74 204.62L577.33 219.69" stroke="#02cbcb"/>
<path d="M339.56 215.97L345.40 220.62M339.56 215.97L327.16 229.60" stroke="#05c8e0"/>
<path d="M314.75 243.22L320.59 247.85M314.75 243.22L302.35 257.45" stroke="#0db5e7"/>
<path d="M265.13 300.77L270.97 305.38M265.13 300.77L252.73 314.85" stroke="#3a81f1"/>
<path d="M240.32 330.37L246.16 334.96M240.32 330.37L227.92 344.25M354.11 322.87L359.94 327.49M354.11 322.87L341.71 338.02M389.85 322.53L395.68 324.74M389.85 322.53L377.45 337.50M460.59 329.88L466.42 332.08M460.59 329.88L448.19 344.59" stroke="#5b71f2"/>
<path d="M215.51 359.89L221.35 364.48M245.42 358.02L251.25 362.61M245.42 358.02L233.01 373.64M359.21 350.91L365.04 353.13M359.21 350.91L346.80 364.82M429.95 357.40L435.78 359.61M429.95 357.40L417.54 373.08M435.78 359.61L441.61 361.82M435.78 359.61L423.38 375.29" stroke="#7267ee"/>
<path d="M432.23 120.60L438.06 125.30M432.23 120.60L419.83 135.15" stroke="#66d160"/>
<path d="M419.83 135.15L425.66 139.84M419.83 135.15L407.42 149.55" stroke="#34cd75"/>
<path d="M382.61 177.70L388.45 182.37M382.61 177.70L370.21 191.67M436.59 172.97L442.42 177.65M436.59 172.97L424.18 186.74" stroke="#09cdaa"/>
<path d="M370.21 191.67L376.04 196.34M370.21 191.67L357.80 206.15M554.74 191.72L560.57 193.87M554.74 191.72L542.33 206.77M631.31 200.50L618.90 215.36" stroke="#00cdbf"/>
<path d="M345.40 220.62L351.23 225.27M345.40 220.62L332.99 234.24" stroke="#07c5e2"/>
<path d="M320.59 247.85L326.42 252.49M320.59 247.85L308.18 262.08M558.35 251.12L564.19 253.29M558.35 251.12L545.95 265.99" stroke="#0fb1e8"/>
<path d="M270.97 305.38L276.80 309.99M270.97 305.38L258.56 319.45M497.07 306.07L502.90 308.26M497.07 306.07L484.66 320.18" stroke="#417bf2"/>
<path d="M258.56 319.45L264.39 324.06M258.56 319.45L246.16 334.96M312.54 314.94L318.37 319.56M312.54 314.94L300.13 328.43M484.66 320.18L490.50 322.38M484.66 320.18L472.26 334.28" stroke="#4f74f2"/>
<path d="M246.16 334.96L251.99 339.56M246.16 334.96L233.75 348.84M276.06 333.26L281.90 337.86M276.06 333.26L263.66 348.75M330.04 328.79L335.87 333.41M330.04 328.79L317.63 342.25M359.94 327.49L365.78 332.11M359.94 327.49L347.54 342.64" stroke="#606ff1"/>
<path d="M233.75 348.84L239.59 353.43M233.75 348.84L221.35 364.48M389.11 341.92L394.95 344.13M389.11 341.92L376.71 357.56" stroke="#6e6bf0"/>
<path d="M221.35 364.48L227.18 369.06M251.25 362.61L257.09 367.20M376.71 357.56L382.54 359.78M376.71 357.56L364.30 371.49M453.28 366.24L459.11 368.45" stroke="#7265ed"/>
<path d="M438.06 125.30L443.90 130.00M438.06 125.30L425.66 139.84" stroke="#51d068"/>
<path d="M425.66 139.84L431.49 144.53M425.66 139.84L413.25 154.23" stroke="#2dcd7b"/>
<path d="M388.45 182.37L394.28 187.04M388.45 182.37L376.04 196.34M442.42 177.65L448.26 182.33M442.42 177.65L430.02 191.42" stroke="#05cdb2"/>
<path d="M314.02 266.71L319.85 271.34M314.02 266.71L301.61 281.26M367.99 262.10L373.83 266.74M367.99 262.10L355.59 275.67" stroke="#19a3eb"/>
<path d="M276.80 309.99L282.63 314.60M276.80 309.99L264.39 324.06M520.40 314.83L526.24 317.02M520.40 314.83L508.00 328.96" stroke="#4777f3"/>
<path d="M251.99 339.56L257.82 344.15M251.99 339.56L239.59 353.43M365.78 332.11L371.61 335.29M365.78 332.11L353.37 347.25" stroke="#666df1"/>
<path d="M227.18 369.06L233.01 373.64M257.09 367.20L262.92 371.78M340.97 360.69L346.80 364.82M340.97 360.69L328.56 374.68M394.21 364.21L400.04 366.43M394.21 364.21L381.80 378.16M400.04 366.43L405.88 368.64M400.04 366.43L387.64 380.38M470.78 372.88L476.62 375.09" stroke="#7164eb"/>
<path d="M443.90 130.00L449.73 134.69M443.90 130.00L431.49 144.53" stroke="#3dce71"/>
<path d="M431.49 144.53L437.33 149.22M431.49 144.53L419.09 158.92" stroke="#26cd81"/>
<path d="M381.87 201.00L387.71 205.66M381.87 201.00L369.47 215.46" stroke="#02cbce"/>
<path d="M369.47 215.46L375.30 220.12M369.47 215.46L357.06 229.92M506.59 213.02L512.42 215.18M506.59 213.02L494.19 227.30M583.16 221.85L589.00 224.00M583.16 221.85L570.76 236.78" stroke="#05c7e1"/>
<path d="M357.06 229.92L362.90 234.57M357.06 229.92L344.66 243.53M494.19 227.30L500.02 229.46M494.19 227.30L481.78 242.10M564.93 234.62L570.76 236.78M564.93 234.62L552.52 248.96" stroke="#0abde5"/>
<path d="M282.63 314.60L288.47 319.21M282.63 314.60L270.23 328.66M366.52 308.38L372.35 313.01M366.52 308.38L354.11 322.87M473.00 315.79L478.83 317.99M473.00 315.79L460.59 329.88" stroke="#4c75f2"/>
<path d="M270.23 328.66L276.06 333.26M270.23 328.66L257.82 344.15M324.21 324.17L330.04 328.79M324.21 324.17L311.80 337.65" stroke="#5a71f2"/>
<path d="M257.82 344.15L263.66 348.75M257.82 344.15L245.42 358.02M287.73 342.47L293.56 347.07M287.73 342.47L275.32 357.94M341.71 338.02L347.54 342.64M341.71 338.02L329.30 351.47M377.45 337.50L383.28 339.71M377.45 337.50L365.04 353.13" stroke="#6b6cf1"/>
<path d="M437.33 149.22L443.16 153.91M437.33 149.22L424.92 163.60" stroke="#1fcd87"/>
<path d="M412.52 177.39L418.35 182.06M412.52 177.39L400.11 191.71" stroke="#07cdad"/>
<path d="M400.11 191.71L405.95 196.38M400.11 191.71L387.71 205.66M454.09 187.02L459.92 191.70M454.09 187.02L441.68 200.77" stroke="#01ccc2"/>
<path d="M325.68 275.97L331.52 280.60M325.68 275.97L313.28 290.51M379.66 271.38L385.49 276.03M379.66 271.38L367.25 284.94" stroke="#209bed"/>
<path d="M288.47 319.21L294.30 323.82M288.47 319.21L276.06 333.26M372.35 313.01L378.18 317.63M372.35 313.01L359.94 327.49M425.59 316.69L431.42 318.89M425.59 316.69L413.18 331.35" stroke="#5274f2"/>
<path d="M263.66 348.75L269.49 353.35M263.66 348.75L251.25 362.61M347.54 342.64L353.37 347.25M347.54 342.64L335.13 356.08M400.78 346.34L406.61 348.55M400.78 346.34L388.37 361.99" stroke="#716af0"/>
<path d="M455.57 139.39L461.40 144.09M455.57 139.39L443.16 153.91" stroke="#2bcd7d"/>
<path d="M443.16 153.91L448.99 158.60M443.16 153.91L430.76 168.28" stroke="#18cd8d"/>
<path d="M405.95 196.38L411.78 201.05M405.95 196.38L393.54 210.33M459.92 191.70L465.76 196.38M459.92 191.70L447.52 205.45" stroke="#02cbca"/>
<path d="M393.54 210.33L399.37 214.99M393.54 210.33L381.14 224.78M447.52 205.45L453.35 210.12M447.52 205.45L435.11 219.73M489.09 206.54L494.92 208.70M489.09 206.54L476.69 220.80M565.66 215.39L571.50 217.54M565.66 215.39L553.26 230.30" stroke="#04c9dd"/>
<path d="M343.92 266.40L349.75 271.03M343.92 266.40L331.52 280.60M427.80 260.54L433.64 262.73M427.80 260.54L415.40 275.43" stroke="#1ba2ec"/>
<path d="M294.30 323.82L300.13 328.43M294.30 323.82L281.90 337.86M378.18 317.63L384.02 320.33M378.18 317.63L365.78 332.11M513.83 331.15L519.66 333.35M513.83 331.15L501.43 345.28" stroke="#5772f2"/>
<path d="M281.90 337.86L287.73 342.47M281.90 337.86L269.49 353.35M335.87 333.41L341.71 338.02M335.87 333.41L323.47 346.86M430.69 337.97L436.52 340.17M430.69 337.97L418.28 352.98M501.43 345.28L507.26 347.48M501.43 345.28L489.02 360.02" stroke="#656df1"/>
<path d="M448.99 158.60L454.83 163.29M448.99 158.60L436.59 172.97M508.81 155.49L514.64 157.64M508.81 155.49L496.40 170.23" stroke="#13cd94"/>
<path d="M411.78 201.05L417.61 205.72M411.78 201.05L399.37 214.99" stroke="#03cad2"/>
<path d="M337.35 285.23L343.18 289.86M337.35 285.23L324.94 299.75M391.33 280.67L397.16 285.31M391.33 280.67L378.92 294.21" stroke="#2d8eef"/>
<path d="M324.94 299.75L330.78 304.38M324.94 299.75L312.54 314.94M491.23 303.88L497.07 306.07M491.23 303.88L478.83 317.99" stroke="#3f7df2"/>
<path d="M300.13 328.43L305.97 333.04M300.13 328.43L287.73 342.47" stroke="#5d70f1"/>
<path d="M275.32 357.94L281.16 362.54M275.32 357.94L262.92 371.78M305.23 356.27L311.06 360.87M305.23 356.27L292.82 371.73M365.04 353.13L370.87 355.34M365.04 353.13L352.64 367.04M441.61 361.82L447.45 364.03M441.61 361.82L429.21 377.51" stroke="#7266ee"/>
<path d="M262.92 371.78L268.75 376.37M352.64 367.04L358.47 369.27M352.64 367.04L340.23 381.51M417.54 373.08L423.38 375.29" stroke="#7062ea"/>
<path d="M454.83 163.29L460.66 167.98M454.83 163.29L442.42 177.65" stroke="#0fcd9c"/>
<path d="M405.21 219.65L411.04 224.32M405.21 219.65L392.80 234.09M465.02 216.47L470.85 218.63M465.02 216.47L452.61 231.24M535.76 223.82L541.59 225.98M535.76 223.82L523.35 238.13" stroke="#08c2e3"/>
<path d="M380.40 248.52L386.23 253.17M380.40 248.52L367.99 262.10M510.95 252.96L516.78 255.13M510.95 252.96L498.54 267.42" stroke="#13ade9"/>
<path d="M355.59 275.67L361.42 280.31M355.59 275.67L343.18 289.86M545.21 284.83L551.05 287.01M545.21 284.83L532.81 299.84" stroke="#2398ee"/>
<path d="M305.97 333.04L311.80 337.65M305.97 333.04L293.56 347.07M419.02 333.56L424.85 335.76M419.02 333.56L406.61 348.55M489.76 340.88L495.59 343.08M489.76 340.88L477.35 355.61" stroke="#626ef1"/>
<path d="M293.56 347.07L299.40 351.67M293.56 347.07L281.16 362.54M471.52 353.41L477.35 355.61M471.52 353.41L459.11 368.45" stroke="#706af0"/>
<path d="M281.16 362.54L286.99 367.13M281.16 362.54L268.75 376.37M311.06 360.87L316.90 365.48M311.06 360.87L298.66 376.32M382.54 359.78L388.37 361.99M382.54 359.78L370.14 373.71M459.11 368.45L464.95 370.66M464.95 370.66L470.78 372.88" stroke="#7165ec"/>
<path d="M460.66 167.98L466.49 172.67M460.66 167.98L448.26 182.33" stroke="#0bcda4"/>
<path d="M411.04 224.32L416.87 228.98M411.04 224.32L398.64 238.74M488.35 225.13L494.19 227.30M488.35 225.13L475.95 239.93M559.09 232.46L564.93 234.62M559.09 232.46L546.69 246.79" stroke="#0abee4"/>
<path d="M398.64 238.74L404.47 243.40M398.64 238.74L386.23 253.17M546.69 246.79L552.52 248.96M546.69 246.79L534.28 261.64" stroke="#0eb3e8"/>
<path d="M386.23 253.17L392.06 257.82M386.23 253.17L373.83 266.74M457.71 252.18L463.54 254.35M457.71 252.18L445.30 267.09" stroke="#15a9ea"/>
<path d="M361.42 280.31L367.25 284.94M361.42 280.31L349.02 294.49M491.97 284.56L497.81 286.74M491.97 284.56L479.57 299.51" stroke="#2992ef"/>
<path d="M311.80 337.65L317.63 342.25M311.80 337.65L299.40 351.67" stroke="#686df1"/>
<path d="M286.99 367.13L292.82 371.73M316.90 365.48L322.73 370.08M316.90 365.48L304.49 380.92M346.80 364.82L352.64 367.04M346.80 364.82L334.40 379.28M411.71 370.86L417.54 373.08" stroke="#7163ea"/>
<path d="M491.30 143.94L497.14 148.65M491.30 143.94L478.90 158.18" stroke="#21cd86"/>
<path d="M478.90 158.18L484.73 162.88M478.90 158.18L466.49 172.67" stroke="#11cd97"/>
<path d="M392.06 257.82L397.90 262.47M392.06 257.82L379.66 271.38M481.04 260.88L486.88 263.06M481.04 260.88L468.64 275.82" stroke="#18a5eb"/>
<path d="M367.25 284.94L373.09 289.58M367.25 284.94L354.85 299.12" stroke="#308cf0"/>
<path d="M354.85 299.12L360.68 303.75M354.85 299.12L342.44 313.62M426.33 298.24L432.16 300.44M426.33 298.24L413.92 312.29" stroke="#407cf2"/>
<path d="M317.63 342.25L323.47 346.86M317.63 342.25L305.23 356.27M459.85 349.00L465.69 351.20M459.85 349.00L447.45 364.03" stroke="#6d6bf0"/>
<path d="M292.82 371.73L298.66 376.32M322.73 370.08L328.56 374.68M322.73 370.08L310.33 385.51M364.30 371.49L370.14 373.71M364.30 371.49L351.90 385.97M429.21 377.51L435.04 379.73" stroke="#7061e9"/>
<path d="M484.73 162.88L490.57 167.57M484.73 162.88L472.33 177.36M537.97 166.21L543.81 168.35M537.97 166.21L525.57 180.98" stroke="#0ecd9f"/>
<path d="M410.30 248.06L416.14 252.71M410.30 248.06L397.90 262.47M516.78 255.13L522.62 257.30M516.78 255.13L504.38 269.59" stroke="#14acea"/>
<path d="M385.49 276.03L391.33 280.67M385.49 276.03L373.09 289.58" stroke="#2795ee"/>
<path d="M373.09 289.58L378.92 294.21M373.09 289.58L360.68 303.75" stroke="#3686f1"/>
<path d="M360.68 303.75L366.52 308.38M360.68 303.75L348.28 318.24M449.66 307.02L455.50 309.21M449.66 307.02L437.26 321.09" stroke="#4677f3"/>
<path d="M348.28 318.24L354.11 322.87M348.28 318.24L335.87 333.41M508.00 328.96L513.83 331.15M508.00 328.96L495.59 343.08" stroke="#5572f2"/>
<path d="M298.66 376.32L304.49 380.92M328.56 374.68L334.40 379.28M381.80 378.16L387.64 380.38" stroke="#6f60e7"/>
<path d="M502.97 153.35L508.81 155.49M502.97 153.35L490.57 167.57" stroke="#13cd92"/>
<path d="M478.16 182.05L484.00 185.22M478.16 182.05L465.76 196.38M548.90 189.57L554.74 191.72M548.90 189.57L536.50 204.61M625.48 198.36L631.31 200.50M625.48 198.36L613.07 213.21" stroke="#00cdbd"/>
<path d="M378.92 294.21L384.75 298.85M378.92 294.21L366.52 308.38M485.40 301.70L491.23 303.88M485.40 301.70L473.00 315.79" stroke="#3d7ff2"/>
<path d="M329.30 351.47L335.13 356.08M329.30 351.47L316.90 365.48" stroke="#7267ef"/>
<path d="M304.49 380.92L310.33 385.51M334.40 379.28L340.23 381.51" stroke="#6f5ee6"/>
<path d="M496.40 170.23L502.23 172.38M496.40 170.23L484.00 185.22M572.97 179.07L578.81 181.21M572.97 179.07L560.57 193.87" stroke="#09cdab"/>
<path d="M434.38 242.97L440.21 245.64M434.38 242.97L421.97 257.37M505.12 250.79L510.95 252.96M505.12 250.79L492.71 265.24M575.86 257.62L581.69 259.79M575.86 257.62L563.45 272.50" stroke="#12aee9"/>
<path d="M397.16 285.31L402.99 289.46M397.16 285.31L384.75 298.85M526.97 297.65L532.81 299.84M526.97 297.65L514.57 312.64" stroke="#3388f0"/>
<path d="M489.83 187.37L495.66 189.53M489.83 187.37L477.42 202.22M566.40 196.02L572.24 198.17M566.40 196.02L554.00 211.08" stroke="#01ccc3"/>
<path d="M477.42 202.22L483.26 204.38M477.42 202.22L465.02 216.47M554.00 211.08L559.83 213.23M554.00 211.08L541.59 225.98" stroke="#04c9d9"/>
<path d="M402.99 289.46L408.83 291.66M402.99 289.46L390.59 303.49M544.47 304.20L532.07 319.20" stroke="#3983f1"/>
<path d="M390.59 303.49L396.42 305.69M390.59 303.49L378.18 317.63" stroke="#4977f3"/>
<path d="M520.47 159.78L526.31 161.92M520.47 159.78L508.07 174.53" stroke="#11cd98"/>
<path d="M508.07 174.53L513.90 176.68M508.07 174.53L495.66 189.53M584.64 183.36L590.47 185.50M584.64 183.36L572.24 198.17" stroke="#07cdaf"/>
<path d="M421.23 277.62L427.07 279.81M421.23 277.62L408.83 291.66" stroke="#2a91ef"/>
<path d="M408.83 291.66L414.66 293.85M408.83 291.66L396.42 305.69" stroke="#3b81f2"/>
<path d="M501.50 191.68L507.33 193.84M501.50 191.68L489.09 206.54M578.07 200.32L583.90 202.47M578.07 200.32L565.66 215.39" stroke="#01ccc7"/>
<path d="M451.88 250.00L457.71 252.18M451.88 250.00L439.47 264.91" stroke="#14aaea"/>
<path d="M427.07 279.81L432.90 282.00M427.07 279.81L414.66 293.85" stroke="#2c8fef"/>
<path d="M414.66 293.85L420.49 296.05M414.66 293.85L402.26 307.89" stroke="#3c7ff2"/>
<path d="M402.26 307.89L408.09 310.09M402.26 307.89L389.85 322.53" stroke="#4c76f3"/>
<path d="M340.23 381.51L346.06 383.74" stroke="#6f5de5"/>
<path d="M358.47 369.27L364.30 371.49M358.47 369.27L346.06 383.74M423.38 375.29L429.21 377.51" stroke="#7062e9"/>
<path d="M346.06 383.74L351.90 385.97" stroke="#6e5de5"/>
<path d="M438.73 284.19L444.57 286.38M438.73 284.19L426.33 298.24" stroke="#2f8cf0"/>
<path d="M413.92 312.29L419.76 314.49M413.92 312.29L401.52 326.94" stroke="#4f75f2"/>
<path d="M531.40 183.13L537.23 185.28M531.40 183.13L519.00 198.15M607.97 191.93L613.81 194.07M607.97 191.93L595.57 206.77" stroke="#03cdb7"/>
<path d="M407.35 329.15L413.18 331.35M407.35 329.15L394.95 344.13M478.09 336.48L483.92 338.68M478.09 336.48L465.69 351.20" stroke="#5f6ff1"/>
<path d="M394.95 344.13L400.78 346.34M394.95 344.13L382.54 359.78M465.69 351.20L471.52 353.41M465.69 351.20L453.28 366.24" stroke="#6f6af0"/>
<path d="M370.14 373.71L375.97 375.93" stroke="#7061e8"/>
<path d="M549.64 170.50L555.47 172.64M549.64 170.50L537.23 185.28" stroke="#0ccda3"/>
<path d="M475.21 258.71L481.04 260.88M475.21 258.71L462.80 273.64" stroke="#17a6eb"/>
<path d="M450.40 288.56L456.23 290.75M450.40 288.56L437.99 302.63" stroke="#3389f0"/>
<path d="M388.37 361.99L394.21 364.21M388.37 361.99L375.97 375.93" stroke="#7164ec"/>
<path d="M375.97 375.93L381.80 378.16" stroke="#7060e8"/>
<path d="M543.07 187.42L548.90 189.57M543.07 187.42L530.66 202.46M619.64 196.22L625.48 198.36M619.64 196.22L607.24 211.06" stroke="#01cdbb"/>
<path d="M493.45 246.44L499.28 248.61M493.45 246.44L481.04 260.88" stroke="#11b0e9"/>
<path d="M468.64 275.82L474.47 278.01M468.64 275.82L456.23 290.75" stroke="#2299ee"/>
<path d="M456.23 290.75L462.07 292.94M456.23 290.75L443.83 304.82" stroke="#3587f1"/>
<path d="M511.69 233.79L517.52 235.96M511.69 233.79L499.28 248.61" stroke="#0cbae6"/>
<path d="M462.07 292.94L467.90 295.13M462.07 292.94L449.66 307.02" stroke="#3685f1"/>
<path d="M387.64 380.38L393.47 382.60" stroke="#6f5fe7"/>
<path d="M480.31 280.19L486.14 282.37M480.31 280.19L467.90 295.13M556.88 289.19L544.47 304.20" stroke="#2695ee"/>
<path d="M405.88 368.64L411.71 370.86M405.88 368.64L393.47 382.60" stroke="#7163eb"/>
<path d="M486.14 282.37L491.97 284.56M486.14 282.37L473.73 297.32" stroke="#2894ef"/>
<path d="M461.33 311.41L467.16 313.60M461.33 311.41L448.92 325.48" stroke="#4976f3"/>
<path d="M529.19 240.29L535.02 242.46M529.19 240.29L516.78 255.13" stroke="#0db7e7"/>
<path d="M479.57 299.51L485.40 301.70M479.57 299.51L467.16 313.60" stroke="#3b80f2"/>
<path d="M448.19 344.59L454.02 346.79M448.19 344.59L435.78 359.61" stroke="#6a6cf1"/>
<path d="M509.47 291.10L515.31 293.29M509.47 291.10L497.07 306.07" stroke="#2e8df0"/>
<path d="M515.31 293.29L521.14 295.47M515.31 293.29L502.90 308.26" stroke="#308bf0"/>
<path d="M496.33 324.57L502.16 326.77M496.33 324.57L483.92 338.68" stroke="#5273f2"/>
<path d="M539.38 282.66L545.21 284.83M539.38 282.66L526.97 297.65" stroke="#219aee"/>
<path d="M582.43 241.11L588.26 243.27M582.43 241.11L570.02 255.45" stroke="#0bbae6"/>
<path d="M538.64 302.02L544.47 304.20M538.64 302.02L526.24 317.02" stroke="#3785f1"/>
</g>
<g stroke-linecap="butt">
<line x1="85.70" y1="394.50" x2="85.70" y2="112.20" stroke="#262626" stroke-width="1.00"/>
<line x1="85.70" y1="394.50" x2="435.20" y2="473.60" stroke="#262626" stroke-width="1.00"/>
<line x1="435.20" y1="473.60" x2="683.81" y2="362.39" stroke="#262626" stroke-width="1.00"/>
<line x1="85.70" y1="394.50" x2="76.20" y2="392.39" stroke="#262626" stroke-width="1.00"/>
<line x1="85.70" y1="338.04" x2="76.20" y2="335.93" stroke="#262626" stroke-width="1.00"/>
<line x1="85.70" y1="281.58" x2="76.20" y2="279.47" stroke="#262626" stroke-width="1.00"/>
<line x1="85.70" y1="225.12" x2="76.20" y2="223.01" stroke="#262626" stroke-width="1.00"/>
<line x1="85.70" y1="168.66" x2="76.20" y2="166.55" stroke="#262626" stroke-width="1.00"/>
<line x1="85.70" y1="112.20" x2="76.20" y2="110.09" stroke="#262626" stroke-width="1.00"/>
<line x1="85.70" y1="394.50" x2="76.40" y2="398.62" stroke="#262626" stroke-width="1.00"/>
<line x1="202.20" y1="420.87" x2="192.90" y2="424.99" stroke="#262626" stroke-width="1.00"/>
<line x1="318.70" y1="447.23" x2="309.40" y2="451.35" stroke="#262626" stroke-width="1.00"/>
<line x1="435.20" y1="473.60" x2="425.90" y2="477.72" stroke="#262626" stroke-width="1.00"/>
<line x1="683.81" y1="362.39" x2="693.81" y2="364.61" stroke="#262626" stroke-width="1.00"/>
<line x1="621.66" y1="390.19" x2="631.66" y2="392.41" stroke="#262626" stroke-width="1.00"/>
<line x1="559.50" y1="418.00" x2="569.50" y2="420.22" stroke="#262626" stroke-width="1.00"/>
<line x1="497.35" y1="445.80" x2="507.35" y2="448.02" stroke="#262626" stroke-width="1.00"/>
<line x1="435.20" y1="473.60" x2="445.20" y2="475.82" stroke="#262626" stroke-width="1.00"/>
</g>
<g fill="#262626">
<text x="69.3" y="116.1" text-anchor="end" font-size="18.6">1600</text>
<text x="69.3" y="172.6" text-anchor="end" font-size="18.6">1500</text>
<text x="69.3" y="229.0" text-anchor="end" font-size="18.6">1400</text>
<text x="69.3" y="285.5" text-anchor="end" font-size="18.6">1300</text>
<text x="69.3" y="341.9" text-anchor="end" font-size="18.6">1200</text>
<text x="69.3" y="398.4" text-anchor="end" font-size="18.6">1100</text>
<text x="65.0" y="420.3" text-anchor="middle" font-size="18.6">1</text>
<text x="181.3" y="446.5" text-anchor="middle" font-size="18.6">2</text>
<text x="297.9" y="473.1" text-anchor="middle" font-size="18.6">3</text>
<text x="414.4" y="499.2" text-anchor="middle" font-size="18.6">4</text>
<text x="711.8" y="384.5" text-anchor="middle" font-size="18.6">0.5</text>
<text x="650.8" y="413.6" text-anchor="middle" font-size="18.6">0.6</text>
<text x="587.8" y="440.6" text-anchor="middle" font-size="18.6">0.7</text>
<text x="526.0" y="468.7" text-anchor="middle" font-size="18.6">0.8</text>
<text x="463.2" y="496.5" text-anchor="middle" font-size="18.6">0.9</text>
<text x="0" y="0" font-size="20.4" text-anchor="middle" transform="translate(16.2 254.5) rotate(-90)">energy (J)</text>
<text x="134.6" y="512.6" font-size="20.4">acceleration (m/s<tspan font-size="14.3" dy="-8.5">2</tspan><tspan dy="8.5">)</tspan></text>
<text x="554.8" y="499.3" text-anchor="start" font-size="20.4">speed (m/s)</text>
</g>
<g>
<rect x="353.3" y="389.9" width="102.2" height="89" rx="3.5" ry="3.5" fill="#f7f7fb" stroke="#c8c8c8" stroke-width="1.1"/>
<circle cx="351.4" cy="388.2" r="3.5" fill="#0d0d0d" stroke="#fdfbe2" stroke-width="1.4"/>
<g font-size="18.9" fill="#262626">
<text x="362.9" y="417.6">X</text>
<text x="362.9" y="441.3">Y</text>
<text x="362.9" y="465.0">Z</text>
</g>
<g font-size="18.9" font-weight="bold" fill="#0a97ee">
<text x="379.8" y="417.6">0.8</text>
<text x="379.8" y="441.3">2.75</text>
<text x="379.8" y="465.0">1144.64</text>
</g>
</g>
</svg>
</body></html>
